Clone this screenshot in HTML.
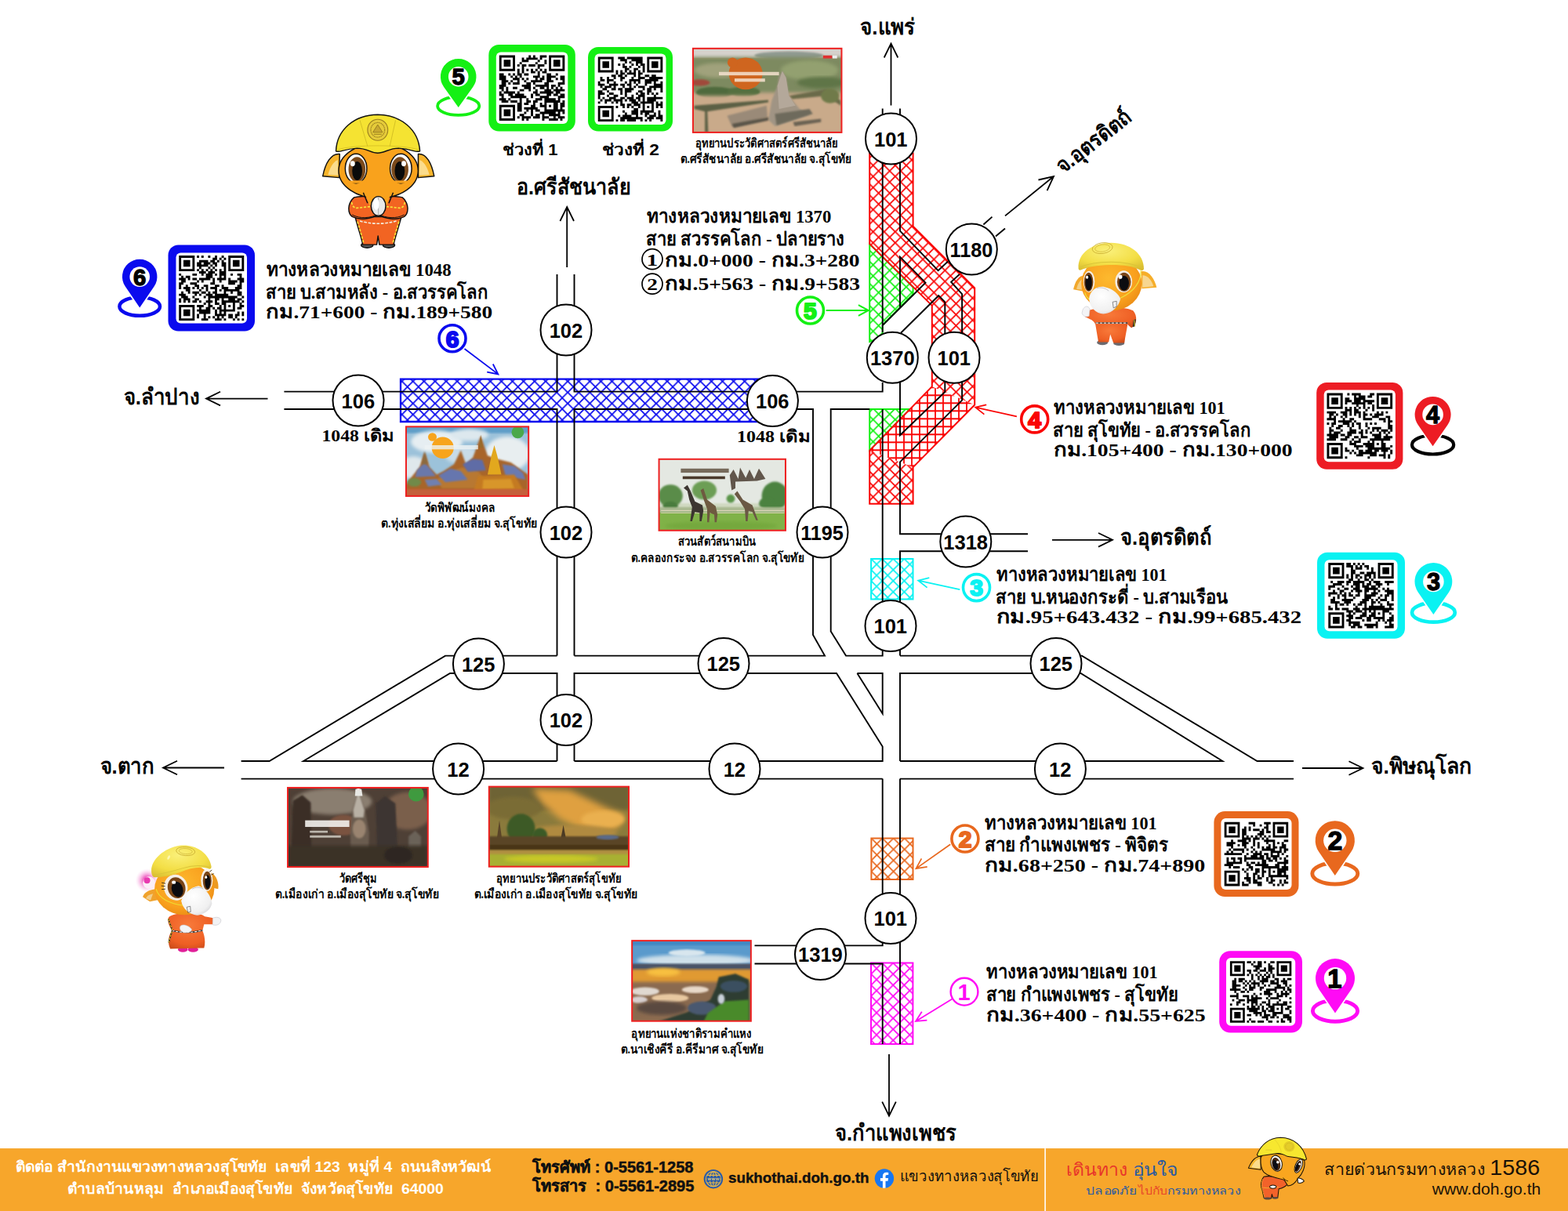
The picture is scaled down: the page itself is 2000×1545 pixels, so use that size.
<!DOCTYPE html>
<html><head><meta charset="utf-8"><title>Sukhothai highway map</title>
<style>html,body{margin:0;padding:0;overflow:hidden;background:#fff;font-family:"Liberation Sans",sans-serif}svg{display:block}</style>
</head><body>
<svg width="2000" height="1545" viewBox="0 0 2000 1545" font-family="Liberation Sans, sans-serif">
<defs><pattern id="hR" width="14.1" height="14.1" patternUnits="userSpaceOnUse" x="1113.65" y="211.05"><path d="M0 0L14.1 14.1M14.1 0L0 14.1M13.1 13.1l2 2M13.1 1l2 -2M-1 1l2 -2M-1 13.1l2 2" stroke="#fa0505" stroke-width="1.8" fill="none"/></pattern><pattern id="hRg" width="10" height="10" patternUnits="userSpaceOnUse" x="1148" y="589.3"><path d="M0 5H10M5 0V10" stroke="#fa0505" stroke-width="1.8" fill="none"/></pattern><pattern id="hG" width="14.1" height="14.1" patternUnits="userSpaceOnUse" x="1113.65" y="211.05"><path d="M0 0L14.1 14.1M14.1 0L0 14.1M13.1 13.1l2 2M13.1 1l2 -2M-1 1l2 -2M-1 13.1l2 2" stroke="#14f014" stroke-width="1.8" fill="none"/></pattern><pattern id="hB" width="14.1" height="14.1" patternUnits="userSpaceOnUse" x="512.65" y="486.5"><path d="M0 0L14.1 14.1M14.1 0L0 14.1M13.1 13.1l2 2M13.1 1l2 -2M-1 1l2 -2M-1 13.1l2 2" stroke="#0a0aee" stroke-width="1.8" fill="none"/></pattern><pattern id="hC" width="14.1" height="14.1" patternUnits="userSpaceOnUse" x="1111.1" y="712.9"><path d="M0 0L14.1 14.1M14.1 0L0 14.1M13.1 13.1l2 2M13.1 1l2 -2M-1 1l2 -2M-1 13.1l2 2" stroke="#0af2f2" stroke-width="1.8" fill="none"/></pattern><pattern id="hO" width="14.1" height="14.1" patternUnits="userSpaceOnUse" x="1111.4" y="1069.5"><path d="M0 0L14.1 14.1M14.1 0L0 14.1M13.1 13.1l2 2M13.1 1l2 -2M-1 1l2 -2M-1 13.1l2 2" stroke="#e8681e" stroke-width="1.8" fill="none"/></pattern><pattern id="hM" width="14.1" height="14.1" patternUnits="userSpaceOnUse" x="1111" y="1228.6"><path d="M0 0L14.1 14.1M14.1 0L0 14.1M13.1 13.1l2 2M13.1 1l2 -2M-1 1l2 -2M-1 13.1l2 2" stroke="#ff0af5" stroke-width="1.8" fill="none"/></pattern><filter id="b1" x="-10%" y="-10%" width="120%" height="120%"><feGaussianBlur stdDeviation="8"/></filter><filter id="b2" x="-10%" y="-10%" width="120%" height="120%"><feGaussianBlur stdDeviation="18"/></filter><filter id="b3" x="-10%" y="-10%" width="120%" height="120%"><feGaussianBlur stdDeviation="35"/></filter><radialGradient id="gHead" cx="0.45" cy="0.4" r="0.65"><stop offset="0" stop-color="#fdb92e"/><stop offset="0.7" stop-color="#f9a01e"/><stop offset="1" stop-color="#e98a14"/></radialGradient><radialGradient id="gHelm" cx="0.45" cy="0.3" r="0.8"><stop offset="0" stop-color="#faf07a"/><stop offset="0.6" stop-color="#f3de45"/><stop offset="1" stop-color="#d8bc30"/></radialGradient><radialGradient id="gBody" cx="0.45" cy="0.35" r="0.75"><stop offset="0" stop-color="#f87a3a"/><stop offset="0.7" stop-color="#ee5f24"/><stop offset="1" stop-color="#c84a18"/></radialGradient><radialGradient id="gMask" cx="0.4" cy="0.35" r="0.8"><stop offset="0" stop-color="#ffffff"/><stop offset="0.7" stop-color="#f0f0f0"/><stop offset="1" stop-color="#c8c8cc"/></radialGradient><radialGradient id="gPink"><stop offset="0" stop-color="#e83ab0"/><stop offset="0.35" stop-color="#f070c8"/><stop offset="1" stop-color="#fbd0ee" stop-opacity="0"/></radialGradient></defs>
<rect width="2000" height="1545" fill="#fff"/>
<polygon points="1109.2,311.2 1164.6,366.5 1164.6,375.2 1125.7,415.0 1125.7,430.0 1109.2,436.0" fill="url(#hG)" stroke="#14f014" stroke-width="2" stroke-linejoin="miter"/><polygon points="1109.2,522.0 1160.7,522.0 1109.2,574.8" fill="url(#hG)" stroke="#14f014" stroke-width="2" stroke-linejoin="miter"/><polygon points="1109.2,195.6 1164.6,195.6 1164.6,288.8 1243.2,367.5 1243.2,516.5 1164.6,596.1 1164.6,642.7 1109.2,642.7 1109.2,574.8 1188.8,493.2 1188.8,389.8 1109.2,311.2" fill="url(#hR)"/><polygon points="1188.8,493.2 1243.2,516.5 1164.6,596.1 1109.2,574.8" fill="#fff"/><polygon points="1188.8,493.2 1243.2,516.5 1164.6,596.1 1109.2,574.8" fill="url(#hRg)"/><polygon points="1109.2,195.6 1164.6,195.6 1164.6,288.8 1243.2,367.5 1243.2,516.5 1164.6,596.1 1164.6,642.7 1109.2,642.7 1109.2,574.8 1188.8,493.2 1188.8,389.8 1109.2,311.2" fill="none" stroke="#fa0505" stroke-width="2" stroke-linejoin="miter"/><polygon points="511.0,483.6 975.0,483.6 975.0,538.0 511.0,538.0" fill="url(#hB)" stroke="#0a0aee" stroke-width="2.3" stroke-linejoin="miter"/><polygon points="1111.1,712.9 1164.5,712.9 1164.5,764.5 1111.1,764.5" fill="url(#hC)" stroke="#0af2f2" stroke-width="2" stroke-linejoin="miter"/><polygon points="1111.4,1069.5 1164.5,1069.5 1164.5,1122.0 1111.4,1122.0" fill="url(#hO)" stroke="#e8681e" stroke-width="2" stroke-linejoin="miter"/><polygon points="1111.0,1228.6 1164.4,1228.6 1164.4,1332.1 1111.0,1332.1" fill="url(#hM)" stroke="#ff0af5" stroke-width="2" stroke-linejoin="miter"/><path d="M307.6 971.0L343.6 971.0L568.0 836.6L710.5 836.6M710.5 971.0L387.0 971.0L574.0 859.0L710.5 859.0L710.5 971.0M307.6 993.6L1125.7 993.6M1148.0 993.6L1650.0 993.6M732.5 971.0L1125.7 971.0L1125.7 952.5L1067.0 859.0L732.5 859.0L732.5 971.0M1148.0 971.0L1559.4 971.0L1378.5 859.0L1148.0 859.0L1148.0 971.0M1650.0 971.0L1603.5 971.0L1380.0 836.6L1148.0 836.6M710.5 350.0L710.5 499.6L362.4 499.6M362.4 522.0L710.5 522.0L710.5 836.6M732.5 350.0L732.5 499.6L1125.7 499.6L1125.7 488.0M732.5 836.6L732.5 522.0L1037.0 522.0L1037.0 810.0L1052.0 836.6L732.5 836.6M1109.2 522.0L1059.7 522.0L1059.7 805.5L1079.0 836.6L1125.7 836.6L1125.7 522.0M1093.4 859.0L1125.7 859.0L1125.7 910.5L1093.4 859.0M1125.7 993.6L1125.7 1206.4L962.5 1206.4M962.5 1229.5L1125.7 1229.5L1125.7 1332.0M1148.0 993.6L1148.0 1332.0M1148.0 836.6L1148.0 703.2L1311.0 703.2M1311.0 681.2L1148.0 681.2L1148.0 589.3L1227.1 510.7L1227.1 480.0M1148.0 488.0L1148.0 555.3L1205.3 500.0L1205.3 480.0M1125.7 138.6L1125.7 424.0M1148.0 138.6L1148.0 294.7L1196.6 345.1L1209.2 333.5M1223.8 350.0L1213.1 359.7L1227.1 375.2L1227.1 430.0M1148.0 391.7L1148.0 327.7L1180.5 360.7L1125.7 415.0M1149.0 424.8L1197.2 377.2L1205.3 385.3L1205.3 430.0M1254.4 286.5L1265.5 276.6M1270.0 301.5L1282.0 291.6" fill="none" stroke="#000" stroke-width="1.9" stroke-linecap="butt" stroke-linejoin="miter"/><path d="M1136.5 134.4L1136.5 55.5M1145.3 73.5L1136.5 55.5L1127.7 73.5" fill="none" stroke="#000" stroke-width="1.8" stroke-linejoin="miter" stroke-miterlimit="10"/><path d="M723.2 341.0L723.2 264.0M732.0 282.0L723.2 264.0L714.4 282.0" fill="none" stroke="#000" stroke-width="1.8" stroke-linejoin="miter" stroke-miterlimit="10"/><path d="M341.5 508.6L263.0 508.6M281.0 499.8L263.0 508.6L281.0 517.4" fill="none" stroke="#000" stroke-width="1.8" stroke-linejoin="miter" stroke-miterlimit="10"/><path d="M286.0 979.5L208.0 979.5M226.0 970.7L208.0 979.5L226.0 988.3" fill="none" stroke="#000" stroke-width="1.8" stroke-linejoin="miter" stroke-miterlimit="10"/><path d="M1661.0 980.0L1738.5 980.0M1720.5 988.8L1738.5 980.0L1720.5 971.2" fill="none" stroke="#000" stroke-width="1.8" stroke-linejoin="miter" stroke-miterlimit="10"/><path d="M1342.0 688.8L1419.0 688.8M1401.0 697.6L1419.0 688.8L1401.0 680.0" fill="none" stroke="#000" stroke-width="1.8" stroke-linejoin="miter" stroke-miterlimit="10"/><path d="M1134.0 1345.0L1134.0 1423.6M1125.2 1405.6L1134.0 1423.6L1142.8 1405.6" fill="none" stroke="#000" stroke-width="1.8" stroke-linejoin="miter" stroke-miterlimit="10"/><path d="M1282.0 275.4L1344.0 225.0M1335.6 243.1L1344.0 225.0L1324.5 229.5" fill="none" stroke="#000" stroke-width="1.8" stroke-linejoin="miter" stroke-miterlimit="10"/><path d="M1053.7 396.0L1107.7 396.0M1094.9 402.8L1107.7 396.0L1094.9 389.2" fill="none" stroke="#14f014" stroke-width="2" stroke-linejoin="miter" stroke-miterlimit="10"/><path d="M592.5 445.0L635.4 477.4M621.2 474.6L635.4 477.4L628.8 464.5" fill="none" stroke="#0a0aee" stroke-width="1.8" stroke-linejoin="miter" stroke-miterlimit="10"/><path d="M1296.9 531.4L1244.1 519.7M1258.2 516.3L1244.1 519.7L1255.4 528.7" fill="none" stroke="#fa0505" stroke-width="1.7" stroke-linejoin="miter" stroke-miterlimit="10"/><path d="M1224.3 752.2L1171.2 740.6M1185.3 737.2L1171.2 740.6L1182.6 749.6" fill="none" stroke="#0af2f2" stroke-width="1.8" stroke-linejoin="miter" stroke-miterlimit="10"/><path d="M1212.2 1077.2L1168.4 1108.1M1175.4 1095.4L1168.4 1108.1L1182.7 1105.8" fill="none" stroke="#e8681e" stroke-width="1.7" stroke-linejoin="miter" stroke-miterlimit="10"/><path d="M1214.5 1274.5L1168.0 1303.0M1175.8 1290.8L1168.0 1303.0L1182.4 1301.6" fill="none" stroke="#ff0af5" stroke-width="1.8" stroke-linejoin="miter" stroke-miterlimit="10"/><circle cx="1136.5" cy="177.0" r="32.5" fill="#fff" stroke="#000" stroke-width="2.0"/><text x="1114.98" y="186.60" font-size="25.5" font-weight="bold" fill="#000">101</text><circle cx="1239.3" cy="318.0" r="32.5" fill="#fff" stroke="#000" stroke-width="2.0"/><text x="1211.60" y="327.60" font-size="25.5" font-weight="bold" fill="#000" textLength="54.8" lengthAdjust="spacingAndGlyphs">1180</text><circle cx="1138.3" cy="456.3" r="32.5" fill="#fff" stroke="#000" stroke-width="2.0"/><text x="1109.92" y="465.90" font-size="25.5" font-weight="bold" fill="#000">1370</text><circle cx="1217.0" cy="456.3" r="32.5" fill="#fff" stroke="#000" stroke-width="2.0"/><text x="1195.48" y="465.90" font-size="25.5" font-weight="bold" fill="#000">101</text><circle cx="722.0" cy="421.0" r="32.5" fill="#fff" stroke="#000" stroke-width="2.0"/><text x="700.63" y="430.60" font-size="25.5" font-weight="bold" fill="#000">102</text><circle cx="457.0" cy="511.0" r="32.5" fill="#fff" stroke="#000" stroke-width="2.0"/><text x="435.58" y="520.60" font-size="25.5" font-weight="bold" fill="#000">106</text><circle cx="985.4" cy="511.6" r="32.5" fill="#fff" stroke="#000" stroke-width="2.0"/><text x="963.98" y="521.20" font-size="25.5" font-weight="bold" fill="#000">106</text><circle cx="722.0" cy="679.0" r="32.5" fill="#fff" stroke="#000" stroke-width="2.0"/><text x="700.63" y="688.60" font-size="25.5" font-weight="bold" fill="#000">102</text><circle cx="1049.0" cy="679.0" r="32.5" fill="#fff" stroke="#000" stroke-width="2.0"/><text x="1021.14" y="688.60" font-size="25.5" font-weight="bold" fill="#000" textLength="54.8" lengthAdjust="spacingAndGlyphs">1195</text><circle cx="1231.8" cy="691.0" r="32.5" fill="#fff" stroke="#000" stroke-width="2.0"/><text x="1203.29" y="700.60" font-size="25.5" font-weight="bold" fill="#000">1318</text><circle cx="1136.0" cy="798.6" r="32.5" fill="#fff" stroke="#000" stroke-width="2.0"/><text x="1114.48" y="808.20" font-size="25.5" font-weight="bold" fill="#000">101</text><circle cx="610.4" cy="847.0" r="32.5" fill="#fff" stroke="#000" stroke-width="2.0"/><text x="588.88" y="856.60" font-size="25.5" font-weight="bold" fill="#000">125</text><circle cx="923.0" cy="846.6" r="32.5" fill="#fff" stroke="#000" stroke-width="2.0"/><text x="901.48" y="856.20" font-size="25.5" font-weight="bold" fill="#000">125</text><circle cx="1347.0" cy="846.6" r="32.5" fill="#fff" stroke="#000" stroke-width="2.0"/><text x="1325.48" y="856.20" font-size="25.5" font-weight="bold" fill="#000">125</text><circle cx="722.0" cy="918.6" r="32.5" fill="#fff" stroke="#000" stroke-width="2.0"/><text x="700.63" y="928.20" font-size="25.5" font-weight="bold" fill="#000">102</text><circle cx="584.6" cy="981.0" r="32.5" fill="#fff" stroke="#000" stroke-width="2.0"/><text x="570.26" y="990.60" font-size="25.5" font-weight="bold" fill="#000">12</text><circle cx="937.0" cy="981.0" r="32.5" fill="#fff" stroke="#000" stroke-width="2.0"/><text x="922.66" y="990.60" font-size="25.5" font-weight="bold" fill="#000">12</text><circle cx="1352.4" cy="981.0" r="32.5" fill="#fff" stroke="#000" stroke-width="2.0"/><text x="1338.06" y="990.60" font-size="25.5" font-weight="bold" fill="#000">12</text><circle cx="1136.0" cy="1171.5" r="32.5" fill="#fff" stroke="#000" stroke-width="2.0"/><text x="1114.48" y="1181.10" font-size="25.5" font-weight="bold" fill="#000">101</text><circle cx="1046.5" cy="1217.5" r="32.5" fill="#fff" stroke="#000" stroke-width="2.0"/><text x="1018.07" y="1227.10" font-size="25.5" font-weight="bold" fill="#000">1319</text><text x="1097.39" y="44.00" font-size="28" font-weight="bold" fill="#000" textLength="69.6" lengthAdjust="spacingAndGlyphs">จ.แพร่</text><text x="658.89" y="247.50" font-size="28" font-weight="bold" fill="#000" textLength="145" lengthAdjust="spacingAndGlyphs">อ.ศรีสัชนาลัย</text><text x="157.87" y="515.50" font-size="28" font-weight="bold" fill="#000" textLength="97" lengthAdjust="spacingAndGlyphs">จ.ลำปาง</text><text x="127.86" y="987.00" font-size="28" font-weight="bold" fill="#000" textLength="69" lengthAdjust="spacingAndGlyphs">จ.ตาก</text><text x="1749.37" y="987.00" font-size="28" font-weight="bold" fill="#000" textLength="128" lengthAdjust="spacingAndGlyphs">จ.พิษณุโลก</text><text x="1429.41" y="694.80" font-size="28" font-weight="bold" fill="#000" textLength="116" lengthAdjust="spacingAndGlyphs">จ.อุตรดิตถ์</text><text x="1065.30" y="1454.60" font-size="28" font-weight="bold" fill="#000" textLength="154.4" lengthAdjust="spacingAndGlyphs">จ.กำแพงเพชร</text><g transform="translate(1356.5 222.0) rotate(-38)"><text x="-0.58" y="0" font-size="28" font-weight="bold" fill="#000" textLength="113.2" lengthAdjust="spacingAndGlyphs">จ.อุตรดิตถ์</text></g><text x="339.61" y="352.00" font-family="Liberation Serif, serif" font-size="24" font-weight="bold" fill="#000" textLength="236" lengthAdjust="spacingAndGlyphs">ทางหลวงหมายเลข 1048</text><text x="338.91" y="380.80" font-family="Liberation Serif, serif" font-size="24" font-weight="bold" fill="#000" textLength="284" lengthAdjust="spacingAndGlyphs">สาย บ.สามหลัง - อ.สวรรคโลก</text><text x="339.15" y="405.60" font-family="Liberation Serif, serif" font-size="24" font-weight="bold" fill="#000" textLength="289" lengthAdjust="spacingAndGlyphs">กม.71+600 - กม.189+580</text><text x="825.01" y="284.20" font-family="Liberation Serif, serif" font-size="24" font-weight="bold" fill="#000" textLength="235.3" lengthAdjust="spacingAndGlyphs">ทางหลวงหมายเลข 1370</text><text x="824.27" y="312.60" font-family="Liberation Serif, serif" font-size="24" font-weight="bold" fill="#000" textLength="253" lengthAdjust="spacingAndGlyphs">สาย สวรรคโลก - ปลายราง</text><text x="848.02" y="339.70" font-family="Liberation Serif, serif" font-size="24" font-weight="bold" fill="#000" textLength="248.4" lengthAdjust="spacingAndGlyphs">กม.0+000 - กม.3+280</text><text x="848.01" y="370.20" font-family="Liberation Serif, serif" font-size="24" font-weight="bold" fill="#000" textLength="249" lengthAdjust="spacingAndGlyphs">กม.5+563 - กม.9+583</text><text x="1344.01" y="528.00" font-family="Liberation Serif, serif" font-size="24" font-weight="bold" fill="#000" textLength="218.6" lengthAdjust="spacingAndGlyphs">ทางหลวงหมายเลข 101</text><text x="1343.31" y="557.20" font-family="Liberation Serif, serif" font-size="24" font-weight="bold" fill="#000" textLength="252" lengthAdjust="spacingAndGlyphs">สาย สุโขทัย - อ.สวรรคโลก</text><text x="1343.55" y="582.00" font-family="Liberation Serif, serif" font-size="24" font-weight="bold" fill="#000" textLength="305" lengthAdjust="spacingAndGlyphs">กม.105+400 - กม.130+000</text><text x="1271.02" y="741.20" font-family="Liberation Serif, serif" font-size="24" font-weight="bold" fill="#000" textLength="217.6" lengthAdjust="spacingAndGlyphs">ทางหลวงหมายเลข 101</text><text x="1270.31" y="770.00" font-family="Liberation Serif, serif" font-size="24" font-weight="bold" fill="#000" textLength="295" lengthAdjust="spacingAndGlyphs">สาย บ.หนองกระดี่ - บ.สามเรือน</text><text x="1270.53" y="794.80" font-family="Liberation Serif, serif" font-size="24" font-weight="bold" fill="#000" textLength="389.6" lengthAdjust="spacingAndGlyphs">กม.95+643.432 - กม.99+685.432</text><text x="1256.21" y="1057.50" font-family="Liberation Serif, serif" font-size="24" font-weight="bold" fill="#000" textLength="219.4" lengthAdjust="spacingAndGlyphs">ทางหลวงหมายเลข 101</text><text x="1255.50" y="1086.00" font-family="Liberation Serif, serif" font-size="24" font-weight="bold" fill="#000" textLength="235" lengthAdjust="spacingAndGlyphs">สาย กำแพงเพชร - พิจิตร</text><text x="1255.71" y="1111.50" font-family="Liberation Serif, serif" font-size="24" font-weight="bold" fill="#000" textLength="281.6" lengthAdjust="spacingAndGlyphs">กม.68+250 - กม.74+890</text><text x="1258.41" y="1248.00" font-family="Liberation Serif, serif" font-size="24" font-weight="bold" fill="#000" textLength="218.2" lengthAdjust="spacingAndGlyphs">ทางหลวงหมายเลข 101</text><text x="1257.72" y="1277.20" font-family="Liberation Serif, serif" font-size="24" font-weight="bold" fill="#000" textLength="244.8" lengthAdjust="spacingAndGlyphs">สาย กำแพงเพชร - สุโขทัย</text><text x="1257.92" y="1303.20" font-family="Liberation Serif, serif" font-size="24" font-weight="bold" fill="#000" textLength="279.7" lengthAdjust="spacingAndGlyphs">กม.36+400 - กม.55+625</text><text x="410.49" y="563.00" font-family="Liberation Serif, serif" font-size="21" font-weight="bold" fill="#000" textLength="92.8" lengthAdjust="spacingAndGlyphs">1048 เดิม</text><text x="939.96" y="564.00" font-family="Liberation Serif, serif" font-size="21" font-weight="bold" fill="#000" textLength="93.8" lengthAdjust="spacingAndGlyphs">1048 เดิม</text><text x="640.73" y="198.00" font-size="20" font-weight="bold" fill="#000" textLength="70.8" lengthAdjust="spacingAndGlyphs">ช่วงที่ 1</text><text x="767.52" y="198.00" font-size="20" font-weight="bold" fill="#000" textLength="73.3" lengthAdjust="spacingAndGlyphs">ช่วงที่ 2</text><circle cx="832.0" cy="330.7" r="13.0" fill="#fff" stroke="#000" stroke-width="1.7"/><text x="824.84" y="338.62" font-family="Liberation Serif, serif" font-size="22" font-weight="bold" fill="#000" textLength="14.3" lengthAdjust="spacingAndGlyphs">1</text><circle cx="832.0" cy="362.2" r="13.0" fill="#fff" stroke="#000" stroke-width="1.7"/><text x="825.18" y="370.12" font-family="Liberation Serif, serif" font-size="22" font-weight="bold" fill="#000" textLength="13.6" lengthAdjust="spacingAndGlyphs">2</text><circle cx="1033.5" cy="396.0" r="17.0" fill="#fff" stroke="#14f014" stroke-width="3.6"/><text x="1025.11" y="406.74" font-size="30" font-weight="bold" fill="#14f014" stroke="#14f014" stroke-width="2.2" stroke-linejoin="round">5</text><circle cx="577.0" cy="431.8" r="17.0" fill="#fff" stroke="#0a0aee" stroke-width="3.6"/><text x="568.65" y="442.54" font-size="30" font-weight="bold" fill="#0a0aee" stroke="#0a0aee" stroke-width="2.2" stroke-linejoin="round">6</text><circle cx="1319.7" cy="534.9" r="17.0" fill="#fff" stroke="#fa0505" stroke-width="3.6"/><text x="1311.21" y="545.64" font-size="30" font-weight="bold" fill="#fa0505" stroke="#fa0505" stroke-width="2.2" stroke-linejoin="round">4</text><circle cx="1245.5" cy="749.6" r="17.0" fill="#fff" stroke="#0af2f2" stroke-width="3.6"/><text x="1237.36" y="760.34" font-size="30" font-weight="bold" fill="#0af2f2" stroke="#0af2f2" stroke-width="2.2" stroke-linejoin="round">3</text><circle cx="1230.9" cy="1070.0" r="17.0" fill="#fff" stroke="#e8681e" stroke-width="3.6"/><text x="1222.64" y="1080.74" font-size="30" font-weight="bold" fill="#e8681e" stroke="#e8681e" stroke-width="2.2" stroke-linejoin="round">2</text><circle cx="1230.0" cy="1265.2" r="17.4" fill="#fff" stroke="#ff0af5" stroke-width="2.4"/><text x="1221.43" y="1275.58" font-size="29" font-weight="bold" fill="#ff0af5">1</text><rect x="623.3" y="57.0" width="110.5" height="110.5" rx="13" fill="#14f014"/><rect x="632.8" y="66.5" width="91.5" height="91.5" rx="6" fill="#fff"/><path d="M636.80 70.50h20.16v2.93h-20.16zM674.23 70.50h2.88v2.93h-2.88zM679.99 70.50h2.88v2.93h-2.88zM688.63 70.50h8.64v2.93h-8.64zM700.14 70.50h20.16v2.93h-20.16zM636.80 73.38h2.88v2.93h-2.88zM654.08 73.38h2.88v2.93h-2.88zM665.59 73.38h2.88v2.93h-2.88zM671.35 73.38h14.40v2.93h-14.40zM688.63 73.38h2.88v2.93h-2.88zM700.14 73.38h2.88v2.93h-2.88zM717.42 73.38h2.88v2.93h-2.88zM636.80 76.26h2.88v2.93h-2.88zM642.56 76.26h8.64v2.93h-8.64zM654.08 76.26h2.88v2.93h-2.88zM665.59 76.26h8.64v2.93h-8.64zM685.75 76.26h2.88v2.93h-2.88zM694.39 76.26h2.88v2.93h-2.88zM700.14 76.26h2.88v2.93h-2.88zM705.90 76.26h8.64v2.93h-8.64zM717.42 76.26h2.88v2.93h-2.88zM636.80 79.14h2.88v2.93h-2.88zM642.56 79.14h8.64v2.93h-8.64zM654.08 79.14h2.88v2.93h-2.88zM662.71 79.14h2.88v2.93h-2.88zM682.87 79.14h2.88v2.93h-2.88zM694.39 79.14h2.88v2.93h-2.88zM700.14 79.14h2.88v2.93h-2.88zM705.90 79.14h8.64v2.93h-8.64zM717.42 79.14h2.88v2.93h-2.88zM636.80 82.02h2.88v2.93h-2.88zM642.56 82.02h8.64v2.93h-8.64zM654.08 82.02h2.88v2.93h-2.88zM659.83 82.02h2.88v2.93h-2.88zM665.59 82.02h5.76v2.93h-5.76zM674.23 82.02h8.64v2.93h-8.64zM685.75 82.02h8.64v2.93h-8.64zM700.14 82.02h2.88v2.93h-2.88zM705.90 82.02h8.64v2.93h-8.64zM717.42 82.02h2.88v2.93h-2.88zM636.80 84.90h2.88v2.93h-2.88zM654.08 84.90h2.88v2.93h-2.88zM665.59 84.90h2.88v2.93h-2.88zM685.75 84.90h2.88v2.93h-2.88zM700.14 84.90h2.88v2.93h-2.88zM717.42 84.90h2.88v2.93h-2.88zM636.80 87.78h20.16v2.93h-20.16zM659.83 87.78h2.88v2.93h-2.88zM665.59 87.78h2.88v2.93h-2.88zM671.35 87.78h2.88v2.93h-2.88zM677.11 87.78h2.88v2.93h-2.88zM682.87 87.78h2.88v2.93h-2.88zM688.63 87.78h2.88v2.93h-2.88zM694.39 87.78h2.88v2.93h-2.88zM700.14 87.78h20.16v2.93h-20.16zM659.83 90.66h2.88v2.93h-2.88zM665.59 90.66h2.88v2.93h-2.88zM677.11 90.66h5.76v2.93h-5.76zM685.75 90.66h2.88v2.93h-2.88zM691.51 90.66h5.76v2.93h-5.76zM636.80 93.53h5.76v2.93h-5.76zM648.32 93.53h2.88v2.93h-2.88zM654.08 93.53h2.88v2.93h-2.88zM659.83 93.53h5.76v2.93h-5.76zM668.47 93.53h5.76v2.93h-5.76zM685.75 93.53h2.88v2.93h-2.88zM697.27 93.53h5.76v2.93h-5.76zM708.78 93.53h2.88v2.93h-2.88zM636.80 96.41h8.64v2.93h-8.64zM651.20 96.41h2.88v2.93h-2.88zM656.96 96.41h2.88v2.93h-2.88zM662.71 96.41h2.88v2.93h-2.88zM679.99 96.41h8.64v2.93h-8.64zM691.51 96.41h2.88v2.93h-2.88zM697.27 96.41h11.52v2.93h-11.52zM714.54 96.41h5.76v2.93h-5.76zM636.80 99.29h8.64v2.93h-8.64zM654.08 99.29h8.64v2.93h-8.64zM665.59 99.29h2.88v2.93h-2.88zM671.35 99.29h2.88v2.93h-2.88zM682.87 99.29h2.88v2.93h-2.88zM688.63 99.29h5.76v2.93h-5.76zM697.27 99.29h5.76v2.93h-5.76zM708.78 99.29h2.88v2.93h-2.88zM714.54 99.29h5.76v2.93h-5.76zM639.68 102.17h8.64v2.93h-8.64zM651.20 102.17h2.88v2.93h-2.88zM659.83 102.17h2.88v2.93h-2.88zM668.47 102.17h2.88v2.93h-2.88zM677.11 102.17h14.40v2.93h-14.40zM697.27 102.17h8.64v2.93h-8.64zM717.42 102.17h2.88v2.93h-2.88zM639.68 105.05h5.76v2.93h-5.76zM648.32 105.05h2.88v2.93h-2.88zM654.08 105.05h8.64v2.93h-8.64zM671.35 105.05h5.76v2.93h-5.76zM679.99 105.05h2.88v2.93h-2.88zM694.39 105.05h5.76v2.93h-5.76zM711.66 105.05h8.64v2.93h-8.64zM636.80 107.93h8.64v2.93h-8.64zM665.59 107.93h11.52v2.93h-11.52zM682.87 107.93h17.28v2.93h-17.28zM703.02 107.93h5.76v2.93h-5.76zM711.66 107.93h2.88v2.93h-2.88zM636.80 110.81h5.76v2.93h-5.76zM645.44 110.81h2.88v2.93h-2.88zM654.08 110.81h5.76v2.93h-5.76zM668.47 110.81h8.64v2.93h-8.64zM679.99 110.81h2.88v2.93h-2.88zM688.63 110.81h5.76v2.93h-5.76zM697.27 110.81h2.88v2.93h-2.88zM703.02 110.81h2.88v2.93h-2.88zM708.78 110.81h2.88v2.93h-2.88zM714.54 110.81h2.88v2.93h-2.88zM639.68 113.69h2.88v2.93h-2.88zM645.44 113.69h2.88v2.93h-2.88zM662.71 113.69h5.76v2.93h-5.76zM674.23 113.69h2.88v2.93h-2.88zM682.87 113.69h2.88v2.93h-2.88zM694.39 113.69h8.64v2.93h-8.64zM705.90 113.69h14.40v2.93h-14.40zM636.80 116.57h2.88v2.93h-2.88zM642.56 116.57h14.40v2.93h-14.40zM659.83 116.57h2.88v2.93h-2.88zM679.99 116.57h5.76v2.93h-5.76zM688.63 116.57h17.28v2.93h-17.28zM708.78 116.57h5.76v2.93h-5.76zM636.80 119.45h5.76v2.93h-5.76zM648.32 119.45h5.76v2.93h-5.76zM656.96 119.45h11.52v2.93h-11.52zM677.11 119.45h2.88v2.93h-2.88zM682.87 119.45h5.76v2.93h-5.76zM697.27 119.45h5.76v2.93h-5.76zM705.90 119.45h5.76v2.93h-5.76zM714.54 119.45h5.76v2.93h-5.76zM639.68 122.33h2.88v2.93h-2.88zM651.20 122.33h20.16v2.93h-20.16zM677.11 122.33h2.88v2.93h-2.88zM688.63 122.33h11.52v2.93h-11.52zM711.66 122.33h8.64v2.93h-8.64zM636.80 125.21h8.64v2.93h-8.64zM648.32 125.21h2.88v2.93h-2.88zM662.71 125.21h2.88v2.93h-2.88zM671.35 125.21h2.88v2.93h-2.88zM682.87 125.21h8.64v2.93h-8.64zM694.39 125.21h14.40v2.93h-14.40zM711.66 125.21h2.88v2.93h-2.88zM639.68 128.09h8.64v2.93h-8.64zM651.20 128.09h8.64v2.93h-8.64zM662.71 128.09h2.88v2.93h-2.88zM671.35 128.09h5.76v2.93h-5.76zM679.99 128.09h5.76v2.93h-5.76zM694.39 128.09h20.16v2.93h-20.16zM717.42 128.09h2.88v2.93h-2.88zM659.83 130.97h5.76v2.93h-5.76zM668.47 130.97h5.76v2.93h-5.76zM679.99 130.97h2.88v2.93h-2.88zM688.63 130.97h2.88v2.93h-2.88zM694.39 130.97h2.88v2.93h-2.88zM705.90 130.97h5.76v2.93h-5.76zM714.54 130.97h5.76v2.93h-5.76zM636.80 133.84h20.16v2.93h-20.16zM659.83 133.84h5.76v2.93h-5.76zM677.11 133.84h5.76v2.93h-5.76zM688.63 133.84h8.64v2.93h-8.64zM700.14 133.84h2.88v2.93h-2.88zM705.90 133.84h5.76v2.93h-5.76zM714.54 133.84h5.76v2.93h-5.76zM636.80 136.72h2.88v2.93h-2.88zM654.08 136.72h2.88v2.93h-2.88zM659.83 136.72h5.76v2.93h-5.76zM668.47 136.72h17.28v2.93h-17.28zM694.39 136.72h2.88v2.93h-2.88zM705.90 136.72h5.76v2.93h-5.76zM714.54 136.72h2.88v2.93h-2.88zM636.80 139.60h2.88v2.93h-2.88zM642.56 139.60h8.64v2.93h-8.64zM654.08 139.60h2.88v2.93h-2.88zM659.83 139.60h5.76v2.93h-5.76zM671.35 139.60h2.88v2.93h-2.88zM677.11 139.60h2.88v2.93h-2.88zM682.87 139.60h5.76v2.93h-5.76zM694.39 139.60h25.91v2.93h-25.91zM636.80 142.48h2.88v2.93h-2.88zM642.56 142.48h8.64v2.93h-8.64zM654.08 142.48h2.88v2.93h-2.88zM668.47 142.48h2.88v2.93h-2.88zM677.11 142.48h2.88v2.93h-2.88zM688.63 142.48h20.16v2.93h-20.16zM711.66 142.48h2.88v2.93h-2.88zM717.42 142.48h2.88v2.93h-2.88zM636.80 145.36h2.88v2.93h-2.88zM642.56 145.36h8.64v2.93h-8.64zM654.08 145.36h2.88v2.93h-2.88zM662.71 145.36h5.76v2.93h-5.76zM677.11 145.36h2.88v2.93h-2.88zM682.87 145.36h5.76v2.93h-5.76zM691.51 145.36h2.88v2.93h-2.88zM700.14 145.36h14.40v2.93h-14.40zM636.80 148.24h2.88v2.93h-2.88zM654.08 148.24h2.88v2.93h-2.88zM659.83 148.24h2.88v2.93h-2.88zM665.59 148.24h11.52v2.93h-11.52zM679.99 148.24h8.64v2.93h-8.64zM691.51 148.24h8.64v2.93h-8.64zM705.90 148.24h2.88v2.93h-2.88zM711.66 148.24h8.64v2.93h-8.64zM636.80 151.12h20.16v2.93h-20.16zM665.59 151.12h2.88v2.93h-2.88zM671.35 151.12h2.88v2.93h-2.88zM691.51 151.12h2.88v2.93h-2.88zM700.14 151.12h11.52v2.93h-11.52zM714.54 151.12h2.88v2.93h-2.88z" fill="#000"/><rect x="750.0" y="60.0" width="108.0" height="107.5" rx="13" fill="#14f014"/><rect x="758.5" y="68.5" width="91.0" height="90.5" rx="6" fill="#fff"/><path d="M762.75 72.50h19.91v2.89h-19.91zM788.35 72.50h8.53v2.89h-8.53zM799.73 72.50h19.91v2.89h-19.91zM825.34 72.50h19.91v2.89h-19.91zM762.75 75.34h2.84v2.89h-2.84zM779.82 75.34h2.84v2.89h-2.84zM791.20 75.34h8.53v2.89h-8.53zM805.42 75.34h14.22v2.89h-14.22zM825.34 75.34h2.84v2.89h-2.84zM842.41 75.34h2.84v2.89h-2.84zM762.75 78.19h2.84v2.89h-2.84zM768.44 78.19h8.53v2.89h-8.53zM779.82 78.19h2.84v2.89h-2.84zM796.89 78.19h2.84v2.89h-2.84zM802.58 78.19h2.84v2.89h-2.84zM811.11 78.19h8.53v2.89h-8.53zM825.34 78.19h2.84v2.89h-2.84zM831.03 78.19h8.53v2.89h-8.53zM842.41 78.19h2.84v2.89h-2.84zM762.75 81.03h2.84v2.89h-2.84zM768.44 81.03h8.53v2.89h-8.53zM779.82 81.03h2.84v2.89h-2.84zM788.35 81.03h2.84v2.89h-2.84zM794.04 81.03h2.84v2.89h-2.84zM805.42 81.03h2.84v2.89h-2.84zM811.11 81.03h2.84v2.89h-2.84zM816.80 81.03h5.69v2.89h-5.69zM825.34 81.03h2.84v2.89h-2.84zM831.03 81.03h8.53v2.89h-8.53zM842.41 81.03h2.84v2.89h-2.84zM762.75 83.88h2.84v2.89h-2.84zM768.44 83.88h8.53v2.89h-8.53zM779.82 83.88h2.84v2.89h-2.84zM794.04 83.88h5.69v2.89h-5.69zM802.58 83.88h2.84v2.89h-2.84zM813.96 83.88h2.84v2.89h-2.84zM819.65 83.88h2.84v2.89h-2.84zM825.34 83.88h2.84v2.89h-2.84zM831.03 83.88h8.53v2.89h-8.53zM842.41 83.88h2.84v2.89h-2.84zM762.75 86.72h2.84v2.89h-2.84zM779.82 86.72h2.84v2.89h-2.84zM796.89 86.72h5.69v2.89h-5.69zM808.27 86.72h5.69v2.89h-5.69zM819.65 86.72h2.84v2.89h-2.84zM825.34 86.72h2.84v2.89h-2.84zM842.41 86.72h2.84v2.89h-2.84zM762.75 89.57h19.91v2.89h-19.91zM785.51 89.57h2.84v2.89h-2.84zM791.20 89.57h2.84v2.89h-2.84zM796.89 89.57h2.84v2.89h-2.84zM802.58 89.57h2.84v2.89h-2.84zM808.27 89.57h2.84v2.89h-2.84zM813.96 89.57h2.84v2.89h-2.84zM819.65 89.57h2.84v2.89h-2.84zM825.34 89.57h19.91v2.89h-19.91zM785.51 92.41h2.84v2.89h-2.84zM791.20 92.41h5.69v2.89h-5.69zM799.73 92.41h11.38v2.89h-11.38zM813.96 92.41h5.69v2.89h-5.69zM779.82 95.26h5.69v2.89h-5.69zM788.35 95.26h5.69v2.89h-5.69zM796.89 95.26h2.84v2.89h-2.84zM808.27 95.26h2.84v2.89h-2.84zM813.96 95.26h2.84v2.89h-2.84zM822.49 95.26h5.69v2.89h-5.69zM831.03 95.26h5.69v2.89h-5.69zM765.59 98.10h2.84v2.89h-2.84zM774.13 98.10h2.84v2.89h-2.84zM782.66 98.10h2.84v2.89h-2.84zM791.20 98.10h5.69v2.89h-5.69zM805.42 98.10h2.84v2.89h-2.84zM813.96 98.10h8.53v2.89h-8.53zM828.18 98.10h17.07v2.89h-17.07zM765.59 100.95h5.69v2.89h-5.69zM774.13 100.95h8.53v2.89h-8.53zM791.20 100.95h2.84v2.89h-2.84zM802.58 100.95h14.22v2.89h-14.22zM822.49 100.95h17.07v2.89h-17.07zM762.75 103.79h2.84v2.89h-2.84zM774.13 103.79h2.84v2.89h-2.84zM782.66 103.79h2.84v2.89h-2.84zM796.89 103.79h2.84v2.89h-2.84zM802.58 103.79h2.84v2.89h-2.84zM808.27 103.79h2.84v2.89h-2.84zM813.96 103.79h2.84v2.89h-2.84zM822.49 103.79h8.53v2.89h-8.53zM833.87 103.79h2.84v2.89h-2.84zM842.41 103.79h2.84v2.89h-2.84zM762.75 106.64h8.53v2.89h-8.53zM776.97 106.64h11.38v2.89h-11.38zM791.20 106.64h5.69v2.89h-5.69zM799.73 106.64h5.69v2.89h-5.69zM811.11 106.64h2.84v2.89h-2.84zM822.49 106.64h2.84v2.89h-2.84zM833.87 106.64h11.38v2.89h-11.38zM765.59 109.48h2.84v2.89h-2.84zM771.28 109.48h8.53v2.89h-8.53zM782.66 109.48h2.84v2.89h-2.84zM794.04 109.48h2.84v2.89h-2.84zM802.58 109.48h2.84v2.89h-2.84zM808.27 109.48h2.84v2.89h-2.84zM813.96 109.48h8.53v2.89h-8.53zM828.18 109.48h17.07v2.89h-17.07zM768.44 112.33h5.69v2.89h-5.69zM779.82 112.33h5.69v2.89h-5.69zM788.35 112.33h5.69v2.89h-5.69zM796.89 112.33h11.38v2.89h-11.38zM819.65 112.33h2.84v2.89h-2.84zM825.34 112.33h5.69v2.89h-5.69zM833.87 112.33h2.84v2.89h-2.84zM842.41 112.33h2.84v2.89h-2.84zM762.75 115.17h5.69v2.89h-5.69zM774.13 115.17h2.84v2.89h-2.84zM791.20 115.17h2.84v2.89h-2.84zM796.89 115.17h8.53v2.89h-8.53zM813.96 115.17h5.69v2.89h-5.69zM825.34 115.17h5.69v2.89h-5.69zM842.41 115.17h2.84v2.89h-2.84zM762.75 118.02h8.53v2.89h-8.53zM776.97 118.02h5.69v2.89h-5.69zM791.20 118.02h2.84v2.89h-2.84zM796.89 118.02h2.84v2.89h-2.84zM811.11 118.02h2.84v2.89h-2.84zM816.80 118.02h5.69v2.89h-5.69zM825.34 118.02h2.84v2.89h-2.84zM831.03 118.02h2.84v2.89h-2.84zM836.72 118.02h2.84v2.89h-2.84zM762.75 120.86h2.84v2.89h-2.84zM774.13 120.86h2.84v2.89h-2.84zM782.66 120.86h5.69v2.89h-5.69zM796.89 120.86h2.84v2.89h-2.84zM805.42 120.86h2.84v2.89h-2.84zM813.96 120.86h8.53v2.89h-8.53zM833.87 120.86h2.84v2.89h-2.84zM762.75 123.71h2.84v2.89h-2.84zM768.44 123.71h2.84v2.89h-2.84zM776.97 123.71h8.53v2.89h-8.53zM791.20 123.71h5.69v2.89h-5.69zM799.73 123.71h8.53v2.89h-8.53zM811.11 123.71h5.69v2.89h-5.69zM819.65 123.71h2.84v2.89h-2.84zM825.34 123.71h19.91v2.89h-19.91zM765.59 126.55h2.84v2.89h-2.84zM771.28 126.55h8.53v2.89h-8.53zM782.66 126.55h11.38v2.89h-11.38zM796.89 126.55h2.84v2.89h-2.84zM802.58 126.55h8.53v2.89h-8.53zM813.96 126.55h2.84v2.89h-2.84zM819.65 126.55h2.84v2.89h-2.84zM825.34 126.55h11.38v2.89h-11.38zM762.75 129.40h2.84v2.89h-2.84zM771.28 129.40h2.84v2.89h-2.84zM779.82 129.40h2.84v2.89h-2.84zM785.51 129.40h2.84v2.89h-2.84zM791.20 129.40h2.84v2.89h-2.84zM805.42 129.40h8.53v2.89h-8.53zM816.80 129.40h17.07v2.89h-17.07zM836.72 129.40h2.84v2.89h-2.84zM842.41 129.40h2.84v2.89h-2.84zM791.20 132.24h5.69v2.89h-5.69zM799.73 132.24h5.69v2.89h-5.69zM808.27 132.24h8.53v2.89h-8.53zM819.65 132.24h2.84v2.89h-2.84zM831.03 132.24h2.84v2.89h-2.84zM836.72 132.24h8.53v2.89h-8.53zM762.75 135.09h19.91v2.89h-19.91zM785.51 135.09h2.84v2.89h-2.84zM794.04 135.09h2.84v2.89h-2.84zM799.73 135.09h2.84v2.89h-2.84zM805.42 135.09h2.84v2.89h-2.84zM813.96 135.09h2.84v2.89h-2.84zM819.65 135.09h2.84v2.89h-2.84zM825.34 135.09h2.84v2.89h-2.84zM831.03 135.09h2.84v2.89h-2.84zM836.72 135.09h2.84v2.89h-2.84zM842.41 135.09h2.84v2.89h-2.84zM762.75 137.93h2.84v2.89h-2.84zM779.82 137.93h2.84v2.89h-2.84zM808.27 137.93h5.69v2.89h-5.69zM819.65 137.93h2.84v2.89h-2.84zM831.03 137.93h2.84v2.89h-2.84zM762.75 140.78h2.84v2.89h-2.84zM768.44 140.78h8.53v2.89h-8.53zM779.82 140.78h2.84v2.89h-2.84zM794.04 140.78h2.84v2.89h-2.84zM805.42 140.78h8.53v2.89h-8.53zM816.80 140.78h17.07v2.89h-17.07zM839.56 140.78h2.84v2.89h-2.84zM762.75 143.62h2.84v2.89h-2.84zM768.44 143.62h8.53v2.89h-8.53zM779.82 143.62h2.84v2.89h-2.84zM796.89 143.62h2.84v2.89h-2.84zM805.42 143.62h8.53v2.89h-8.53zM816.80 143.62h2.84v2.89h-2.84zM822.49 143.62h5.69v2.89h-5.69zM833.87 143.62h2.84v2.89h-2.84zM839.56 143.62h2.84v2.89h-2.84zM762.75 146.47h2.84v2.89h-2.84zM768.44 146.47h8.53v2.89h-8.53zM779.82 146.47h2.84v2.89h-2.84zM788.35 146.47h2.84v2.89h-2.84zM794.04 146.47h11.38v2.89h-11.38zM811.11 146.47h2.84v2.89h-2.84zM822.49 146.47h2.84v2.89h-2.84zM828.18 146.47h8.53v2.89h-8.53zM839.56 146.47h5.69v2.89h-5.69zM762.75 149.31h2.84v2.89h-2.84zM779.82 149.31h2.84v2.89h-2.84zM791.20 149.31h28.45v2.89h-28.45zM825.34 149.31h8.53v2.89h-8.53zM836.72 149.31h8.53v2.89h-8.53zM762.75 152.16h19.91v2.89h-19.91zM785.51 152.16h2.84v2.89h-2.84zM791.20 152.16h5.69v2.89h-5.69zM799.73 152.16h11.38v2.89h-11.38zM816.80 152.16h2.84v2.89h-2.84zM822.49 152.16h2.84v2.89h-2.84zM828.18 152.16h2.84v2.89h-2.84zM842.41 152.16h2.84v2.89h-2.84z" fill="#000"/><rect x="214.5" y="312.5" width="110.5" height="110.0" rx="13" fill="#0a0aee"/><rect x="224.5" y="322.5" width="90.5" height="90.0" rx="6" fill="#fff"/><path d="M228.25 326.00h20.03v2.91h-20.03zM251.15 326.00h2.86v2.91h-2.86zM256.87 326.00h2.86v2.91h-2.86zM265.46 326.00h2.86v2.91h-2.86zM274.04 326.00h2.86v2.91h-2.86zM282.63 326.00h2.86v2.91h-2.86zM291.22 326.00h20.03v2.91h-20.03zM228.25 328.86h2.86v2.91h-2.86zM245.42 328.86h2.86v2.91h-2.86zM271.18 328.86h5.72v2.91h-5.72zM279.77 328.86h2.86v2.91h-2.86zM285.49 328.86h2.86v2.91h-2.86zM291.22 328.86h2.86v2.91h-2.86zM308.39 328.86h2.86v2.91h-2.86zM228.25 331.72h2.86v2.91h-2.86zM233.97 331.72h8.59v2.91h-8.59zM245.42 331.72h2.86v2.91h-2.86zM254.01 331.72h11.45v2.91h-11.45zM268.32 331.72h5.72v2.91h-5.72zM276.91 331.72h2.86v2.91h-2.86zM282.63 331.72h2.86v2.91h-2.86zM291.22 331.72h2.86v2.91h-2.86zM296.94 331.72h8.59v2.91h-8.59zM308.39 331.72h2.86v2.91h-2.86zM228.25 334.59h2.86v2.91h-2.86zM233.97 334.59h8.59v2.91h-8.59zM245.42 334.59h2.86v2.91h-2.86zM251.15 334.59h5.72v2.91h-5.72zM259.73 334.59h8.59v2.91h-8.59zM271.18 334.59h5.72v2.91h-5.72zM282.63 334.59h5.72v2.91h-5.72zM291.22 334.59h2.86v2.91h-2.86zM296.94 334.59h8.59v2.91h-8.59zM308.39 334.59h2.86v2.91h-2.86zM228.25 337.45h2.86v2.91h-2.86zM233.97 337.45h8.59v2.91h-8.59zM245.42 337.45h2.86v2.91h-2.86zM251.15 337.45h14.31v2.91h-14.31zM268.32 337.45h2.86v2.91h-2.86zM274.04 337.45h2.86v2.91h-2.86zM282.63 337.45h5.72v2.91h-5.72zM291.22 337.45h2.86v2.91h-2.86zM296.94 337.45h8.59v2.91h-8.59zM308.39 337.45h2.86v2.91h-2.86zM228.25 340.31h2.86v2.91h-2.86zM245.42 340.31h2.86v2.91h-2.86zM254.01 340.31h2.86v2.91h-2.86zM265.46 340.31h2.86v2.91h-2.86zM271.18 340.31h2.86v2.91h-2.86zM285.49 340.31h2.86v2.91h-2.86zM291.22 340.31h2.86v2.91h-2.86zM308.39 340.31h2.86v2.91h-2.86zM228.25 343.17h20.03v2.91h-20.03zM251.15 343.17h2.86v2.91h-2.86zM256.87 343.17h2.86v2.91h-2.86zM262.59 343.17h2.86v2.91h-2.86zM268.32 343.17h2.86v2.91h-2.86zM274.04 343.17h2.86v2.91h-2.86zM279.77 343.17h2.86v2.91h-2.86zM285.49 343.17h2.86v2.91h-2.86zM291.22 343.17h20.03v2.91h-20.03zM254.01 346.03h8.59v2.91h-8.59zM265.46 346.03h8.59v2.91h-8.59zM279.77 346.03h8.59v2.91h-8.59zM228.25 348.90h2.86v2.91h-2.86zM245.42 348.90h5.72v2.91h-5.72zM256.87 348.90h2.86v2.91h-2.86zM262.59 348.90h8.59v2.91h-8.59zM274.04 348.90h2.86v2.91h-2.86zM279.77 348.90h8.59v2.91h-8.59zM294.08 348.90h2.86v2.91h-2.86zM302.66 348.90h5.72v2.91h-5.72zM231.11 351.76h2.86v2.91h-2.86zM236.84 351.76h5.72v2.91h-5.72zM262.59 351.76h8.59v2.91h-8.59zM279.77 351.76h2.86v2.91h-2.86zM285.49 351.76h2.86v2.91h-2.86zM305.53 351.76h2.86v2.91h-2.86zM228.25 354.62h8.59v2.91h-8.59zM239.70 354.62h2.86v2.91h-2.86zM245.42 354.62h5.72v2.91h-5.72zM254.01 354.62h14.31v2.91h-14.31zM271.18 354.62h2.86v2.91h-2.86zM276.91 354.62h11.45v2.91h-11.45zM291.22 354.62h2.86v2.91h-2.86zM302.66 354.62h8.59v2.91h-8.59zM231.11 357.48h5.72v2.91h-5.72zM251.15 357.48h2.86v2.91h-2.86zM256.87 357.48h2.86v2.91h-2.86zM271.18 357.48h2.86v2.91h-2.86zM279.77 357.48h2.86v2.91h-2.86zM291.22 357.48h11.45v2.91h-11.45zM305.53 357.48h5.72v2.91h-5.72zM228.25 360.34h5.72v2.91h-5.72zM242.56 360.34h8.59v2.91h-8.59zM268.32 360.34h5.72v2.91h-5.72zM291.22 360.34h8.59v2.91h-8.59zM305.53 360.34h2.86v2.91h-2.86zM228.25 363.21h2.86v2.91h-2.86zM236.84 363.21h2.86v2.91h-2.86zM248.28 363.21h5.72v2.91h-5.72zM259.73 363.21h5.72v2.91h-5.72zM274.04 363.21h5.72v2.91h-5.72zM282.63 363.21h2.86v2.91h-2.86zM302.66 363.21h5.72v2.91h-5.72zM228.25 366.07h2.86v2.91h-2.86zM233.97 366.07h8.59v2.91h-8.59zM245.42 366.07h2.86v2.91h-2.86zM251.15 366.07h2.86v2.91h-2.86zM256.87 366.07h2.86v2.91h-2.86zM262.59 366.07h2.86v2.91h-2.86zM268.32 366.07h8.59v2.91h-8.59zM282.63 366.07h8.59v2.91h-8.59zM299.80 366.07h8.59v2.91h-8.59zM236.84 368.93h5.72v2.91h-5.72zM254.01 368.93h2.86v2.91h-2.86zM262.59 368.93h2.86v2.91h-2.86zM274.04 368.93h2.86v2.91h-2.86zM279.77 368.93h2.86v2.91h-2.86zM285.49 368.93h20.03v2.91h-20.03zM231.11 371.79h2.86v2.91h-2.86zM239.70 371.79h2.86v2.91h-2.86zM245.42 371.79h8.59v2.91h-8.59zM256.87 371.79h5.72v2.91h-5.72zM265.46 371.79h2.86v2.91h-2.86zM271.18 371.79h5.72v2.91h-5.72zM285.49 371.79h2.86v2.91h-2.86zM294.08 371.79h2.86v2.91h-2.86zM302.66 371.79h5.72v2.91h-5.72zM228.25 374.66h8.59v2.91h-8.59zM248.28 374.66h2.86v2.91h-2.86zM254.01 374.66h2.86v2.91h-2.86zM262.59 374.66h8.59v2.91h-8.59zM274.04 374.66h17.17v2.91h-17.17zM302.66 374.66h5.72v2.91h-5.72zM231.11 377.52h8.59v2.91h-8.59zM245.42 377.52h2.86v2.91h-2.86zM259.73 377.52h2.86v2.91h-2.86zM265.46 377.52h37.21v2.91h-37.21zM308.39 377.52h2.86v2.91h-2.86zM228.25 380.38h2.86v2.91h-2.86zM233.97 380.38h8.59v2.91h-8.59zM248.28 380.38h5.72v2.91h-5.72zM265.46 380.38h2.86v2.91h-2.86zM274.04 380.38h5.72v2.91h-5.72zM282.63 380.38h2.86v2.91h-2.86zM291.22 380.38h8.59v2.91h-8.59zM302.66 380.38h5.72v2.91h-5.72zM228.25 383.24h2.86v2.91h-2.86zM233.97 383.24h2.86v2.91h-2.86zM239.70 383.24h2.86v2.91h-2.86zM245.42 383.24h5.72v2.91h-5.72zM254.01 383.24h2.86v2.91h-2.86zM262.59 383.24h8.59v2.91h-8.59zM274.04 383.24h2.86v2.91h-2.86zM282.63 383.24h22.90v2.91h-22.90zM308.39 383.24h2.86v2.91h-2.86zM259.73 386.10h2.86v2.91h-2.86zM265.46 386.10h2.86v2.91h-2.86zM274.04 386.10h5.72v2.91h-5.72zM282.63 386.10h5.72v2.91h-5.72zM296.94 386.10h2.86v2.91h-2.86zM305.53 386.10h2.86v2.91h-2.86zM228.25 388.97h20.03v2.91h-20.03zM251.15 388.97h8.59v2.91h-8.59zM265.46 388.97h5.72v2.91h-5.72zM279.77 388.97h2.86v2.91h-2.86zM285.49 388.97h2.86v2.91h-2.86zM291.22 388.97h2.86v2.91h-2.86zM296.94 388.97h2.86v2.91h-2.86zM305.53 388.97h5.72v2.91h-5.72zM228.25 391.83h2.86v2.91h-2.86zM245.42 391.83h2.86v2.91h-2.86zM254.01 391.83h2.86v2.91h-2.86zM262.59 391.83h5.72v2.91h-5.72zM271.18 391.83h2.86v2.91h-2.86zM276.91 391.83h5.72v2.91h-5.72zM285.49 391.83h2.86v2.91h-2.86zM296.94 391.83h2.86v2.91h-2.86zM302.66 391.83h5.72v2.91h-5.72zM228.25 394.69h2.86v2.91h-2.86zM233.97 394.69h8.59v2.91h-8.59zM245.42 394.69h2.86v2.91h-2.86zM251.15 394.69h17.17v2.91h-17.17zM274.04 394.69h2.86v2.91h-2.86zM279.77 394.69h20.03v2.91h-20.03zM228.25 397.55h2.86v2.91h-2.86zM233.97 397.55h8.59v2.91h-8.59zM245.42 397.55h2.86v2.91h-2.86zM254.01 397.55h14.31v2.91h-14.31zM274.04 397.55h2.86v2.91h-2.86zM279.77 397.55h2.86v2.91h-2.86zM285.49 397.55h2.86v2.91h-2.86zM302.66 397.55h2.86v2.91h-2.86zM308.39 397.55h2.86v2.91h-2.86zM228.25 400.41h2.86v2.91h-2.86zM233.97 400.41h8.59v2.91h-8.59zM245.42 400.41h2.86v2.91h-2.86zM251.15 400.41h2.86v2.91h-2.86zM259.73 400.41h2.86v2.91h-2.86zM274.04 400.41h14.31v2.91h-14.31zM291.22 400.41h5.72v2.91h-5.72zM299.80 400.41h5.72v2.91h-5.72zM308.39 400.41h2.86v2.91h-2.86zM228.25 403.28h2.86v2.91h-2.86zM245.42 403.28h2.86v2.91h-2.86zM251.15 403.28h2.86v2.91h-2.86zM259.73 403.28h2.86v2.91h-2.86zM265.46 403.28h2.86v2.91h-2.86zM271.18 403.28h2.86v2.91h-2.86zM276.91 403.28h2.86v2.91h-2.86zM282.63 403.28h2.86v2.91h-2.86zM291.22 403.28h5.72v2.91h-5.72zM299.80 403.28h2.86v2.91h-2.86zM228.25 406.14h20.03v2.91h-20.03zM256.87 406.14h8.59v2.91h-8.59zM274.04 406.14h8.59v2.91h-8.59zM285.49 406.14h2.86v2.91h-2.86zM296.94 406.14h2.86v2.91h-2.86zM302.66 406.14h2.86v2.91h-2.86zM308.39 406.14h2.86v2.91h-2.86z" fill="#000"/><rect x="1679.2" y="488.0" width="110.2" height="110.8" rx="13" fill="#ed1c24"/><rect x="1688.7" y="497.5" width="91.2" height="91.8" rx="6" fill="#fff"/><path d="M1692.50 501.60h20.18v2.93h-20.18zM1718.44 501.60h2.88v2.93h-2.88zM1724.21 501.60h11.53v2.93h-11.53zM1747.27 501.60h5.77v2.93h-5.77zM1755.92 501.60h20.18v2.93h-20.18zM1692.50 504.48h2.88v2.93h-2.88zM1709.80 504.48h2.88v2.93h-2.88zM1727.09 504.48h2.88v2.93h-2.88zM1732.86 504.48h8.65v2.93h-8.65zM1744.39 504.48h5.77v2.93h-5.77zM1755.92 504.48h2.88v2.93h-2.88zM1773.22 504.48h2.88v2.93h-2.88zM1692.50 507.37h2.88v2.93h-2.88zM1698.27 507.37h8.65v2.93h-8.65zM1709.80 507.37h2.88v2.93h-2.88zM1715.56 507.37h5.77v2.93h-5.77zM1727.09 507.37h14.41v2.93h-14.41zM1755.92 507.37h2.88v2.93h-2.88zM1761.69 507.37h8.65v2.93h-8.65zM1773.22 507.37h2.88v2.93h-2.88zM1692.50 510.25h2.88v2.93h-2.88zM1698.27 510.25h8.65v2.93h-8.65zM1709.80 510.25h2.88v2.93h-2.88zM1715.56 510.25h8.65v2.93h-8.65zM1727.09 510.25h8.65v2.93h-8.65zM1738.62 510.25h14.41v2.93h-14.41zM1755.92 510.25h2.88v2.93h-2.88zM1761.69 510.25h8.65v2.93h-8.65zM1773.22 510.25h2.88v2.93h-2.88zM1692.50 513.13h2.88v2.93h-2.88zM1698.27 513.13h8.65v2.93h-8.65zM1709.80 513.13h2.88v2.93h-2.88zM1715.56 513.13h2.88v2.93h-2.88zM1724.21 513.13h17.30v2.93h-17.30zM1744.39 513.13h5.77v2.93h-5.77zM1755.92 513.13h2.88v2.93h-2.88zM1761.69 513.13h8.65v2.93h-8.65zM1773.22 513.13h2.88v2.93h-2.88zM1692.50 516.01h2.88v2.93h-2.88zM1709.80 516.01h2.88v2.93h-2.88zM1729.98 516.01h2.88v2.93h-2.88zM1738.62 516.01h2.88v2.93h-2.88zM1750.16 516.01h2.88v2.93h-2.88zM1755.92 516.01h2.88v2.93h-2.88zM1773.22 516.01h2.88v2.93h-2.88zM1692.50 518.90h20.18v2.93h-20.18zM1715.56 518.90h2.88v2.93h-2.88zM1721.33 518.90h2.88v2.93h-2.88zM1727.09 518.90h2.88v2.93h-2.88zM1732.86 518.90h2.88v2.93h-2.88zM1738.62 518.90h2.88v2.93h-2.88zM1744.39 518.90h2.88v2.93h-2.88zM1750.16 518.90h2.88v2.93h-2.88zM1755.92 518.90h20.18v2.93h-20.18zM1715.56 521.78h8.65v2.93h-8.65zM1727.09 521.78h5.77v2.93h-5.77zM1741.51 521.78h2.88v2.93h-2.88zM1750.16 521.78h2.88v2.93h-2.88zM1692.50 524.66h11.53v2.93h-11.53zM1709.80 524.66h8.65v2.93h-8.65zM1721.33 524.66h2.88v2.93h-2.88zM1727.09 524.66h8.65v2.93h-8.65zM1738.62 524.66h2.88v2.93h-2.88zM1755.92 524.66h2.88v2.93h-2.88zM1761.69 524.66h2.88v2.93h-2.88zM1767.45 524.66h2.88v2.93h-2.88zM1695.38 527.54h5.77v2.93h-5.77zM1704.03 527.54h2.88v2.93h-2.88zM1712.68 527.54h5.77v2.93h-5.77zM1721.33 527.54h2.88v2.93h-2.88zM1727.09 527.54h2.88v2.93h-2.88zM1732.86 527.54h2.88v2.93h-2.88zM1738.62 527.54h5.77v2.93h-5.77zM1747.27 527.54h2.88v2.93h-2.88zM1753.04 527.54h11.53v2.93h-11.53zM1695.38 530.43h2.88v2.93h-2.88zM1701.15 530.43h2.88v2.93h-2.88zM1709.80 530.43h2.88v2.93h-2.88zM1715.56 530.43h2.88v2.93h-2.88zM1732.86 530.43h2.88v2.93h-2.88zM1738.62 530.43h2.88v2.93h-2.88zM1750.16 530.43h8.65v2.93h-8.65zM1767.45 530.43h5.77v2.93h-5.77zM1692.50 533.31h11.53v2.93h-11.53zM1712.68 533.31h2.88v2.93h-2.88zM1721.33 533.31h5.77v2.93h-5.77zM1738.62 533.31h11.53v2.93h-11.53zM1758.80 533.31h8.65v2.93h-8.65zM1770.33 533.31h2.88v2.93h-2.88zM1701.15 536.19h2.88v2.93h-2.88zM1706.91 536.19h17.30v2.93h-17.30zM1727.09 536.19h2.88v2.93h-2.88zM1764.57 536.19h2.88v2.93h-2.88zM1770.33 536.19h5.77v2.93h-5.77zM1692.50 539.08h2.88v2.93h-2.88zM1698.27 539.08h5.77v2.93h-5.77zM1712.68 539.08h8.65v2.93h-8.65zM1724.21 539.08h2.88v2.93h-2.88zM1729.98 539.08h5.77v2.93h-5.77zM1741.51 539.08h2.88v2.93h-2.88zM1747.27 539.08h2.88v2.93h-2.88zM1753.04 539.08h2.88v2.93h-2.88zM1770.33 539.08h2.88v2.93h-2.88zM1698.27 541.96h2.88v2.93h-2.88zM1706.91 541.96h5.77v2.93h-5.77zM1718.44 541.96h2.88v2.93h-2.88zM1724.21 541.96h2.88v2.93h-2.88zM1732.86 541.96h2.88v2.93h-2.88zM1741.51 541.96h2.88v2.93h-2.88zM1770.33 541.96h5.77v2.93h-5.77zM1695.38 544.84h2.88v2.93h-2.88zM1704.03 544.84h5.77v2.93h-5.77zM1721.33 544.84h2.88v2.93h-2.88zM1732.86 544.84h2.88v2.93h-2.88zM1744.39 544.84h2.88v2.93h-2.88zM1750.16 544.84h11.53v2.93h-11.53zM1770.33 544.84h5.77v2.93h-5.77zM1695.38 547.72h5.77v2.93h-5.77zM1709.80 547.72h2.88v2.93h-2.88zM1721.33 547.72h8.65v2.93h-8.65zM1735.74 547.72h2.88v2.93h-2.88zM1741.51 547.72h2.88v2.93h-2.88zM1750.16 547.72h2.88v2.93h-2.88zM1755.92 547.72h2.88v2.93h-2.88zM1761.69 547.72h8.65v2.93h-8.65zM1773.22 547.72h2.88v2.93h-2.88zM1695.38 550.61h2.88v2.93h-2.88zM1701.15 550.61h8.65v2.93h-8.65zM1718.44 550.61h11.53v2.93h-11.53zM1732.86 550.61h5.77v2.93h-5.77zM1741.51 550.61h2.88v2.93h-2.88zM1747.27 550.61h2.88v2.93h-2.88zM1758.80 550.61h2.88v2.93h-2.88zM1764.57 550.61h2.88v2.93h-2.88zM1770.33 550.61h2.88v2.93h-2.88zM1692.50 553.49h14.41v2.93h-14.41zM1709.80 553.49h5.77v2.93h-5.77zM1718.44 553.49h5.77v2.93h-5.77zM1735.74 553.49h2.88v2.93h-2.88zM1750.16 553.49h11.53v2.93h-11.53zM1767.45 553.49h2.88v2.93h-2.88zM1695.38 556.37h11.53v2.93h-11.53zM1715.56 556.37h5.77v2.93h-5.77zM1727.09 556.37h5.77v2.93h-5.77zM1735.74 556.37h8.65v2.93h-8.65zM1753.04 556.37h8.65v2.93h-8.65zM1764.57 556.37h11.53v2.93h-11.53zM1692.50 559.26h11.53v2.93h-11.53zM1709.80 559.26h8.65v2.93h-8.65zM1724.21 559.26h2.88v2.93h-2.88zM1732.86 559.26h2.88v2.93h-2.88zM1747.27 559.26h25.94v2.93h-25.94zM1721.33 562.14h2.88v2.93h-2.88zM1727.09 562.14h8.65v2.93h-8.65zM1744.39 562.14h2.88v2.93h-2.88zM1750.16 562.14h2.88v2.93h-2.88zM1761.69 562.14h2.88v2.93h-2.88zM1692.50 565.02h20.18v2.93h-20.18zM1721.33 565.02h8.65v2.93h-8.65zM1738.62 565.02h14.41v2.93h-14.41zM1755.92 565.02h2.88v2.93h-2.88zM1761.69 565.02h5.77v2.93h-5.77zM1692.50 567.90h2.88v2.93h-2.88zM1709.80 567.90h2.88v2.93h-2.88zM1727.09 567.90h11.53v2.93h-11.53zM1741.51 567.90h11.53v2.93h-11.53zM1761.69 567.90h5.77v2.93h-5.77zM1773.22 567.90h2.88v2.93h-2.88zM1692.50 570.79h2.88v2.93h-2.88zM1698.27 570.79h8.65v2.93h-8.65zM1709.80 570.79h2.88v2.93h-2.88zM1715.56 570.79h2.88v2.93h-2.88zM1729.98 570.79h2.88v2.93h-2.88zM1744.39 570.79h28.83v2.93h-28.83zM1692.50 573.67h2.88v2.93h-2.88zM1698.27 573.67h8.65v2.93h-8.65zM1709.80 573.67h2.88v2.93h-2.88zM1715.56 573.67h5.77v2.93h-5.77zM1724.21 573.67h2.88v2.93h-2.88zM1732.86 573.67h5.77v2.93h-5.77zM1741.51 573.67h8.65v2.93h-8.65zM1753.04 573.67h5.77v2.93h-5.77zM1761.69 573.67h8.65v2.93h-8.65zM1773.22 573.67h2.88v2.93h-2.88zM1692.50 576.55h2.88v2.93h-2.88zM1698.27 576.55h8.65v2.93h-8.65zM1709.80 576.55h2.88v2.93h-2.88zM1721.33 576.55h2.88v2.93h-2.88zM1727.09 576.55h2.88v2.93h-2.88zM1732.86 576.55h23.06v2.93h-23.06zM1764.57 576.55h2.88v2.93h-2.88zM1773.22 576.55h2.88v2.93h-2.88zM1692.50 579.43h2.88v2.93h-2.88zM1709.80 579.43h2.88v2.93h-2.88zM1729.98 579.43h8.65v2.93h-8.65zM1747.27 579.43h8.65v2.93h-8.65zM1758.80 579.43h8.65v2.93h-8.65zM1770.33 579.43h2.88v2.93h-2.88zM1692.50 582.32h20.18v2.93h-20.18zM1715.56 582.32h2.88v2.93h-2.88zM1744.39 582.32h2.88v2.93h-2.88zM1764.57 582.32h2.88v2.93h-2.88zM1770.33 582.32h2.88v2.93h-2.88z" fill="#000"/><rect x="1680.0" y="704.8" width="112.0" height="110.0" rx="13" fill="#0af2f2"/><rect x="1689.5" y="714.3" width="93.0" height="91.0" rx="6" fill="#fff"/><path d="M1694.30 718.10h20.13v2.93h-20.13zM1717.31 718.10h5.75v2.93h-5.75zM1725.93 718.10h2.88v2.93h-2.88zM1731.69 718.10h2.88v2.93h-2.88zM1737.44 718.10h2.88v2.93h-2.88zM1757.57 718.10h20.13v2.93h-20.13zM1694.30 720.98h2.88v2.93h-2.88zM1711.56 720.98h2.88v2.93h-2.88zM1717.31 720.98h8.63v2.93h-8.63zM1728.81 720.98h2.88v2.93h-2.88zM1734.56 720.98h2.88v2.93h-2.88zM1740.31 720.98h5.75v2.93h-5.75zM1757.57 720.98h2.88v2.93h-2.88zM1774.82 720.98h2.88v2.93h-2.88zM1694.30 723.85h2.88v2.93h-2.88zM1700.05 723.85h8.63v2.93h-8.63zM1711.56 723.85h2.88v2.93h-2.88zM1723.06 723.85h2.88v2.93h-2.88zM1728.81 723.85h8.63v2.93h-8.63zM1743.19 723.85h2.88v2.93h-2.88zM1748.94 723.85h2.88v2.93h-2.88zM1757.57 723.85h2.88v2.93h-2.88zM1763.32 723.85h8.63v2.93h-8.63zM1774.82 723.85h2.88v2.93h-2.88zM1694.30 726.73h2.88v2.93h-2.88zM1700.05 726.73h8.63v2.93h-8.63zM1711.56 726.73h2.88v2.93h-2.88zM1723.06 726.73h5.75v2.93h-5.75zM1748.94 726.73h2.88v2.93h-2.88zM1757.57 726.73h2.88v2.93h-2.88zM1763.32 726.73h8.63v2.93h-8.63zM1774.82 726.73h2.88v2.93h-2.88zM1694.30 729.60h2.88v2.93h-2.88zM1700.05 729.60h8.63v2.93h-8.63zM1711.56 729.60h2.88v2.93h-2.88zM1723.06 729.60h5.75v2.93h-5.75zM1734.56 729.60h5.75v2.93h-5.75zM1743.19 729.60h11.50v2.93h-11.50zM1757.57 729.60h2.88v2.93h-2.88zM1763.32 729.60h8.63v2.93h-8.63zM1774.82 729.60h2.88v2.93h-2.88zM1694.30 732.48h2.88v2.93h-2.88zM1711.56 732.48h2.88v2.93h-2.88zM1717.31 732.48h2.88v2.93h-2.88zM1723.06 732.48h2.88v2.93h-2.88zM1728.81 732.48h5.75v2.93h-5.75zM1740.31 732.48h8.63v2.93h-8.63zM1751.82 732.48h2.88v2.93h-2.88zM1757.57 732.48h2.88v2.93h-2.88zM1774.82 732.48h2.88v2.93h-2.88zM1694.30 735.36h20.13v2.93h-20.13zM1717.31 735.36h2.88v2.93h-2.88zM1723.06 735.36h2.88v2.93h-2.88zM1728.81 735.36h2.88v2.93h-2.88zM1734.56 735.36h2.88v2.93h-2.88zM1740.31 735.36h2.88v2.93h-2.88zM1746.07 735.36h2.88v2.93h-2.88zM1751.82 735.36h2.88v2.93h-2.88zM1757.57 735.36h20.13v2.93h-20.13zM1720.18 738.23h5.75v2.93h-5.75zM1731.69 738.23h2.88v2.93h-2.88zM1740.31 738.23h5.75v2.93h-5.75zM1748.94 738.23h2.88v2.93h-2.88zM1697.18 741.11h2.88v2.93h-2.88zM1705.80 741.11h8.63v2.93h-8.63zM1717.31 741.11h5.75v2.93h-5.75zM1725.93 741.11h14.38v2.93h-14.38zM1746.07 741.11h2.88v2.93h-2.88zM1751.82 741.11h8.63v2.93h-8.63zM1766.20 741.11h11.50v2.93h-11.50zM1700.05 743.98h11.50v2.93h-11.50zM1717.31 743.98h2.88v2.93h-2.88zM1725.93 743.98h8.63v2.93h-8.63zM1737.44 743.98h2.88v2.93h-2.88zM1743.19 743.98h5.75v2.93h-5.75zM1754.69 743.98h8.63v2.93h-8.63zM1769.07 743.98h2.88v2.93h-2.88zM1694.30 746.86h8.63v2.93h-8.63zM1711.56 746.86h2.88v2.93h-2.88zM1723.06 746.86h2.88v2.93h-2.88zM1728.81 746.86h5.75v2.93h-5.75zM1737.44 746.86h8.63v2.93h-8.63zM1748.94 746.86h5.75v2.93h-5.75zM1757.57 746.86h2.88v2.93h-2.88zM1694.30 749.73h2.88v2.93h-2.88zM1705.80 749.73h2.88v2.93h-2.88zM1714.43 749.73h5.75v2.93h-5.75zM1725.93 749.73h8.63v2.93h-8.63zM1740.31 749.73h17.26v2.93h-17.26zM1763.32 749.73h2.88v2.93h-2.88zM1769.07 749.73h2.88v2.93h-2.88zM1700.05 752.61h2.88v2.93h-2.88zM1708.68 752.61h5.75v2.93h-5.75zM1723.06 752.61h2.88v2.93h-2.88zM1728.81 752.61h8.63v2.93h-8.63zM1740.31 752.61h5.75v2.93h-5.75zM1751.82 752.61h2.88v2.93h-2.88zM1757.57 752.61h2.88v2.93h-2.88zM1766.20 752.61h11.50v2.93h-11.50zM1694.30 755.49h11.50v2.93h-11.50zM1708.68 755.49h2.88v2.93h-2.88zM1714.43 755.49h2.88v2.93h-2.88zM1720.18 755.49h2.88v2.93h-2.88zM1731.69 755.49h2.88v2.93h-2.88zM1740.31 755.49h2.88v2.93h-2.88zM1748.94 755.49h8.63v2.93h-8.63zM1769.07 755.49h8.63v2.93h-8.63zM1694.30 758.36h2.88v2.93h-2.88zM1705.80 758.36h2.88v2.93h-2.88zM1711.56 758.36h5.75v2.93h-5.75zM1720.18 758.36h5.75v2.93h-5.75zM1728.81 758.36h5.75v2.93h-5.75zM1740.31 758.36h14.38v2.93h-14.38zM1760.44 758.36h2.88v2.93h-2.88zM1766.20 758.36h5.75v2.93h-5.75zM1774.82 758.36h2.88v2.93h-2.88zM1700.05 761.24h2.88v2.93h-2.88zM1705.80 761.24h2.88v2.93h-2.88zM1714.43 761.24h2.88v2.93h-2.88zM1725.93 761.24h2.88v2.93h-2.88zM1740.31 761.24h8.63v2.93h-8.63zM1757.57 761.24h2.88v2.93h-2.88zM1766.20 761.24h2.88v2.93h-2.88zM1774.82 761.24h2.88v2.93h-2.88zM1697.18 764.11h5.75v2.93h-5.75zM1711.56 764.11h14.38v2.93h-14.38zM1737.44 764.11h8.63v2.93h-8.63zM1748.94 764.11h2.88v2.93h-2.88zM1754.69 764.11h2.88v2.93h-2.88zM1760.44 764.11h8.63v2.93h-8.63zM1774.82 764.11h2.88v2.93h-2.88zM1697.18 766.99h11.50v2.93h-11.50zM1714.43 766.99h8.63v2.93h-8.63zM1734.56 766.99h8.63v2.93h-8.63zM1748.94 766.99h5.75v2.93h-5.75zM1757.57 766.99h2.88v2.93h-2.88zM1769.07 766.99h2.88v2.93h-2.88zM1702.93 769.87h2.88v2.93h-2.88zM1708.68 769.87h5.75v2.93h-5.75zM1717.31 769.87h2.88v2.93h-2.88zM1725.93 769.87h2.88v2.93h-2.88zM1731.69 769.87h5.75v2.93h-5.75zM1740.31 769.87h2.88v2.93h-2.88zM1748.94 769.87h2.88v2.93h-2.88zM1760.44 769.87h2.88v2.93h-2.88zM1769.07 769.87h8.63v2.93h-8.63zM1694.30 772.74h2.88v2.93h-2.88zM1702.93 772.74h2.88v2.93h-2.88zM1728.81 772.74h2.88v2.93h-2.88zM1740.31 772.74h2.88v2.93h-2.88zM1746.07 772.74h20.13v2.93h-20.13zM1771.95 772.74h2.88v2.93h-2.88zM1694.30 775.62h5.75v2.93h-5.75zM1702.93 775.62h5.75v2.93h-5.75zM1711.56 775.62h8.63v2.93h-8.63zM1725.93 775.62h8.63v2.93h-8.63zM1737.44 775.62h40.26v2.93h-40.26zM1717.31 778.49h8.63v2.93h-8.63zM1728.81 778.49h8.63v2.93h-8.63zM1740.31 778.49h2.88v2.93h-2.88zM1746.07 778.49h2.88v2.93h-2.88zM1751.82 778.49h2.88v2.93h-2.88zM1763.32 778.49h8.63v2.93h-8.63zM1694.30 781.37h20.13v2.93h-20.13zM1720.18 781.37h2.88v2.93h-2.88zM1725.93 781.37h2.88v2.93h-2.88zM1737.44 781.37h5.75v2.93h-5.75zM1748.94 781.37h5.75v2.93h-5.75zM1757.57 781.37h2.88v2.93h-2.88zM1763.32 781.37h2.88v2.93h-2.88zM1771.95 781.37h2.88v2.93h-2.88zM1694.30 784.24h2.88v2.93h-2.88zM1711.56 784.24h2.88v2.93h-2.88zM1717.31 784.24h8.63v2.93h-8.63zM1734.56 784.24h8.63v2.93h-8.63zM1746.07 784.24h8.63v2.93h-8.63zM1763.32 784.24h2.88v2.93h-2.88zM1774.82 784.24h2.88v2.93h-2.88zM1694.30 787.12h2.88v2.93h-2.88zM1700.05 787.12h8.63v2.93h-8.63zM1711.56 787.12h2.88v2.93h-2.88zM1720.18 787.12h5.75v2.93h-5.75zM1728.81 787.12h8.63v2.93h-8.63zM1743.19 787.12h5.75v2.93h-5.75zM1751.82 787.12h14.38v2.93h-14.38zM1771.95 787.12h5.75v2.93h-5.75zM1694.30 790.00h2.88v2.93h-2.88zM1700.05 790.00h8.63v2.93h-8.63zM1711.56 790.00h2.88v2.93h-2.88zM1717.31 790.00h5.75v2.93h-5.75zM1737.44 790.00h2.88v2.93h-2.88zM1743.19 790.00h5.75v2.93h-5.75zM1757.57 790.00h2.88v2.93h-2.88zM1763.32 790.00h2.88v2.93h-2.88zM1769.07 790.00h8.63v2.93h-8.63zM1694.30 792.87h2.88v2.93h-2.88zM1700.05 792.87h8.63v2.93h-8.63zM1711.56 792.87h2.88v2.93h-2.88zM1720.18 792.87h14.38v2.93h-14.38zM1754.69 792.87h2.88v2.93h-2.88zM1766.20 792.87h2.88v2.93h-2.88zM1771.95 792.87h2.88v2.93h-2.88zM1694.30 795.75h2.88v2.93h-2.88zM1711.56 795.75h2.88v2.93h-2.88zM1720.18 795.75h2.88v2.93h-2.88zM1725.93 795.75h8.63v2.93h-8.63zM1740.31 795.75h17.26v2.93h-17.26zM1771.95 795.75h5.75v2.93h-5.75zM1694.30 798.62h20.13v2.93h-20.13zM1723.06 798.62h5.75v2.93h-5.75zM1731.69 798.62h5.75v2.93h-5.75zM1743.19 798.62h8.63v2.93h-8.63zM1754.69 798.62h2.88v2.93h-2.88zM1766.20 798.62h11.50v2.93h-11.50z" fill="#000"/><rect x="1548.4" y="1035.1" width="108.1" height="109.0" rx="14" fill="#e8681e"/><rect x="1557.4" y="1044.1" width="90.1" height="91.0" rx="6" fill="#fff"/><path d="M1561.70 1048.85h19.67v2.86h-19.67zM1592.61 1048.85h8.43v2.86h-8.43zM1612.29 1048.85h8.43v2.86h-8.43zM1623.53 1048.85h19.67v2.86h-19.67zM1561.70 1051.66h2.81v2.86h-2.81zM1578.56 1051.66h2.81v2.86h-2.81zM1598.23 1051.66h2.81v2.86h-2.81zM1606.67 1051.66h2.81v2.86h-2.81zM1615.10 1051.66h2.81v2.86h-2.81zM1623.53 1051.66h2.81v2.86h-2.81zM1640.39 1051.66h2.81v2.86h-2.81zM1561.70 1054.47h2.81v2.86h-2.81zM1567.32 1054.47h8.43v2.86h-8.43zM1578.56 1054.47h2.81v2.86h-2.81zM1586.99 1054.47h2.81v2.86h-2.81zM1592.61 1054.47h2.81v2.86h-2.81zM1612.29 1054.47h5.62v2.86h-5.62zM1623.53 1054.47h2.81v2.86h-2.81zM1629.15 1054.47h8.43v2.86h-8.43zM1640.39 1054.47h2.81v2.86h-2.81zM1561.70 1057.28h2.81v2.86h-2.81zM1567.32 1057.28h8.43v2.86h-8.43zM1578.56 1057.28h2.81v2.86h-2.81zM1584.18 1057.28h5.62v2.86h-5.62zM1592.61 1057.28h2.81v2.86h-2.81zM1598.23 1057.28h8.43v2.86h-8.43zM1609.48 1057.28h2.81v2.86h-2.81zM1615.10 1057.28h2.81v2.86h-2.81zM1623.53 1057.28h2.81v2.86h-2.81zM1629.15 1057.28h8.43v2.86h-8.43zM1640.39 1057.28h2.81v2.86h-2.81zM1561.70 1060.09h2.81v2.86h-2.81zM1567.32 1060.09h8.43v2.86h-8.43zM1578.56 1060.09h2.81v2.86h-2.81zM1584.18 1060.09h5.62v2.86h-5.62zM1606.67 1060.09h5.62v2.86h-5.62zM1615.10 1060.09h5.62v2.86h-5.62zM1623.53 1060.09h2.81v2.86h-2.81zM1629.15 1060.09h8.43v2.86h-8.43zM1640.39 1060.09h2.81v2.86h-2.81zM1561.70 1062.90h2.81v2.86h-2.81zM1578.56 1062.90h2.81v2.86h-2.81zM1584.18 1062.90h5.62v2.86h-5.62zM1603.86 1062.90h8.43v2.86h-8.43zM1623.53 1062.90h2.81v2.86h-2.81zM1640.39 1062.90h2.81v2.86h-2.81zM1561.70 1065.71h19.67v2.86h-19.67zM1584.18 1065.71h2.81v2.86h-2.81zM1589.80 1065.71h2.81v2.86h-2.81zM1595.42 1065.71h2.81v2.86h-2.81zM1601.04 1065.71h2.81v2.86h-2.81zM1606.67 1065.71h2.81v2.86h-2.81zM1612.29 1065.71h2.81v2.86h-2.81zM1617.91 1065.71h2.81v2.86h-2.81zM1623.53 1065.71h19.67v2.86h-19.67zM1584.18 1068.52h11.24v2.86h-11.24zM1598.23 1068.52h8.43v2.86h-8.43zM1609.48 1068.52h2.81v2.86h-2.81zM1615.10 1068.52h2.81v2.86h-2.81zM1570.13 1071.33h2.81v2.86h-2.81zM1578.56 1071.33h11.24v2.86h-11.24zM1592.61 1071.33h2.81v2.86h-2.81zM1598.23 1071.33h2.81v2.86h-2.81zM1612.29 1071.33h14.05v2.86h-14.05zM1637.58 1071.33h5.62v2.86h-5.62zM1564.51 1074.14h11.24v2.86h-11.24zM1584.18 1074.14h8.43v2.86h-8.43zM1598.23 1074.14h2.81v2.86h-2.81zM1603.86 1074.14h2.81v2.86h-2.81zM1615.10 1074.14h2.81v2.86h-2.81zM1623.53 1074.14h2.81v2.86h-2.81zM1629.15 1074.14h2.81v2.86h-2.81zM1634.77 1074.14h2.81v2.86h-2.81zM1564.51 1076.95h8.43v2.86h-8.43zM1578.56 1076.95h2.81v2.86h-2.81zM1584.18 1076.95h5.62v2.86h-5.62zM1598.23 1076.95h2.81v2.86h-2.81zM1603.86 1076.95h2.81v2.86h-2.81zM1617.91 1076.95h2.81v2.86h-2.81zM1623.53 1076.95h2.81v2.86h-2.81zM1634.77 1076.95h5.62v2.86h-5.62zM1570.13 1079.76h2.81v2.86h-2.81zM1586.99 1079.76h2.81v2.86h-2.81zM1595.42 1079.76h2.81v2.86h-2.81zM1603.86 1079.76h2.81v2.86h-2.81zM1609.48 1079.76h2.81v2.86h-2.81zM1615.10 1079.76h5.62v2.86h-5.62zM1623.53 1079.76h5.62v2.86h-5.62zM1631.96 1079.76h8.43v2.86h-8.43zM1567.32 1082.57h2.81v2.86h-2.81zM1572.94 1082.57h14.05v2.86h-14.05zM1589.80 1082.57h2.81v2.86h-2.81zM1598.23 1082.57h2.81v2.86h-2.81zM1609.48 1082.57h16.86v2.86h-16.86zM1631.96 1082.57h2.81v2.86h-2.81zM1637.58 1082.57h5.62v2.86h-5.62zM1564.51 1085.38h2.81v2.86h-2.81zM1570.13 1085.38h2.81v2.86h-2.81zM1584.18 1085.38h2.81v2.86h-2.81zM1595.42 1085.38h2.81v2.86h-2.81zM1601.04 1085.38h2.81v2.86h-2.81zM1606.67 1085.38h2.81v2.86h-2.81zM1620.72 1085.38h14.05v2.86h-14.05zM1637.58 1085.38h2.81v2.86h-2.81zM1561.70 1088.19h22.48v2.86h-22.48zM1589.80 1088.19h2.81v2.86h-2.81zM1598.23 1088.19h11.24v2.86h-11.24zM1612.29 1088.19h5.62v2.86h-5.62zM1620.72 1088.19h2.81v2.86h-2.81zM1629.15 1088.19h2.81v2.86h-2.81zM1634.77 1088.19h2.81v2.86h-2.81zM1586.99 1091.01h2.81v2.86h-2.81zM1595.42 1091.01h8.43v2.86h-8.43zM1606.67 1091.01h5.62v2.86h-5.62zM1615.10 1091.01h2.81v2.86h-2.81zM1620.72 1091.01h11.24v2.86h-11.24zM1640.39 1091.01h2.81v2.86h-2.81zM1564.51 1093.82h2.81v2.86h-2.81zM1570.13 1093.82h5.62v2.86h-5.62zM1578.56 1093.82h5.62v2.86h-5.62zM1586.99 1093.82h25.29v2.86h-25.29zM1615.10 1093.82h5.62v2.86h-5.62zM1623.53 1093.82h5.62v2.86h-5.62zM1631.96 1093.82h2.81v2.86h-2.81zM1637.58 1093.82h2.81v2.86h-2.81zM1564.51 1096.63h2.81v2.86h-2.81zM1572.94 1096.63h2.81v2.86h-2.81zM1581.37 1096.63h2.81v2.86h-2.81zM1586.99 1096.63h2.81v2.86h-2.81zM1609.48 1096.63h5.62v2.86h-5.62zM1617.91 1096.63h5.62v2.86h-5.62zM1626.34 1096.63h2.81v2.86h-2.81zM1637.58 1096.63h5.62v2.86h-5.62zM1564.51 1099.44h19.67v2.86h-19.67zM1589.80 1099.44h2.81v2.86h-2.81zM1595.42 1099.44h5.62v2.86h-5.62zM1603.86 1099.44h2.81v2.86h-2.81zM1609.48 1099.44h5.62v2.86h-5.62zM1629.15 1099.44h14.05v2.86h-14.05zM1561.70 1102.25h11.24v2.86h-11.24zM1589.80 1102.25h5.62v2.86h-5.62zM1601.04 1102.25h16.86v2.86h-16.86zM1626.34 1102.25h5.62v2.86h-5.62zM1637.58 1102.25h2.81v2.86h-2.81zM1567.32 1105.06h2.81v2.86h-2.81zM1572.94 1105.06h8.43v2.86h-8.43zM1592.61 1105.06h5.62v2.86h-5.62zM1609.48 1105.06h22.48v2.86h-22.48zM1634.77 1105.06h8.43v2.86h-8.43zM1584.18 1107.87h2.81v2.86h-2.81zM1589.80 1107.87h2.81v2.86h-2.81zM1595.42 1107.87h2.81v2.86h-2.81zM1601.04 1107.87h5.62v2.86h-5.62zM1609.48 1107.87h2.81v2.86h-2.81zM1617.91 1107.87h2.81v2.86h-2.81zM1629.15 1107.87h14.05v2.86h-14.05zM1561.70 1110.68h19.67v2.86h-19.67zM1586.99 1110.68h2.81v2.86h-2.81zM1601.04 1110.68h5.62v2.86h-5.62zM1609.48 1110.68h5.62v2.86h-5.62zM1617.91 1110.68h2.81v2.86h-2.81zM1623.53 1110.68h2.81v2.86h-2.81zM1629.15 1110.68h11.24v2.86h-11.24zM1561.70 1113.49h2.81v2.86h-2.81zM1578.56 1113.49h2.81v2.86h-2.81zM1589.80 1113.49h2.81v2.86h-2.81zM1598.23 1113.49h5.62v2.86h-5.62zM1609.48 1113.49h2.81v2.86h-2.81zM1617.91 1113.49h2.81v2.86h-2.81zM1629.15 1113.49h5.62v2.86h-5.62zM1637.58 1113.49h2.81v2.86h-2.81zM1561.70 1116.30h2.81v2.86h-2.81zM1567.32 1116.30h8.43v2.86h-8.43zM1578.56 1116.30h2.81v2.86h-2.81zM1589.80 1116.30h2.81v2.86h-2.81zM1598.23 1116.30h2.81v2.86h-2.81zM1603.86 1116.30h2.81v2.86h-2.81zM1609.48 1116.30h2.81v2.86h-2.81zM1617.91 1116.30h25.29v2.86h-25.29zM1561.70 1119.11h2.81v2.86h-2.81zM1567.32 1119.11h8.43v2.86h-8.43zM1578.56 1119.11h2.81v2.86h-2.81zM1586.99 1119.11h8.43v2.86h-8.43zM1598.23 1119.11h2.81v2.86h-2.81zM1603.86 1119.11h5.62v2.86h-5.62zM1615.10 1119.11h2.81v2.86h-2.81zM1620.72 1119.11h2.81v2.86h-2.81zM1640.39 1119.11h2.81v2.86h-2.81zM1561.70 1121.92h2.81v2.86h-2.81zM1567.32 1121.92h8.43v2.86h-8.43zM1578.56 1121.92h2.81v2.86h-2.81zM1589.80 1121.92h5.62v2.86h-5.62zM1598.23 1121.92h5.62v2.86h-5.62zM1615.10 1121.92h2.81v2.86h-2.81zM1620.72 1121.92h5.62v2.86h-5.62zM1631.96 1121.92h2.81v2.86h-2.81zM1637.58 1121.92h2.81v2.86h-2.81zM1561.70 1124.73h2.81v2.86h-2.81zM1578.56 1124.73h2.81v2.86h-2.81zM1584.18 1124.73h2.81v2.86h-2.81zM1592.61 1124.73h2.81v2.86h-2.81zM1598.23 1124.73h11.24v2.86h-11.24zM1617.91 1124.73h5.62v2.86h-5.62zM1631.96 1124.73h2.81v2.86h-2.81zM1637.58 1124.73h5.62v2.86h-5.62zM1561.70 1127.54h19.67v2.86h-19.67zM1584.18 1127.54h8.43v2.86h-8.43zM1603.86 1127.54h5.62v2.86h-5.62zM1623.53 1127.54h2.81v2.86h-2.81zM1629.15 1127.54h2.81v2.86h-2.81zM1634.77 1127.54h2.81v2.86h-2.81z" fill="#000"/><rect x="1555.2" y="1213.2" width="105.8" height="104.4" rx="14" fill="#ff0af5"/><rect x="1564.0" y="1222.0" width="88.2" height="86.8" rx="6" fill="#fff"/><path d="M1568.90 1226.20h18.92v2.75h-18.92zM1590.53 1226.20h5.41v2.75h-5.41zM1598.64 1226.20h2.70v2.75h-2.70zM1604.04 1226.20h5.41v2.75h-5.41zM1612.16 1226.20h2.70v2.75h-2.70zM1620.27 1226.20h5.41v2.75h-5.41zM1628.38 1226.20h18.92v2.75h-18.92zM1568.90 1228.90h2.70v2.75h-2.70zM1585.12 1228.90h2.70v2.75h-2.70zM1595.93 1228.90h2.70v2.75h-2.70zM1604.04 1228.90h5.41v2.75h-5.41zM1617.56 1228.90h2.70v2.75h-2.70zM1628.38 1228.90h2.70v2.75h-2.70zM1644.60 1228.90h2.70v2.75h-2.70zM1568.90 1231.61h2.70v2.75h-2.70zM1574.31 1231.61h8.11v2.75h-8.11zM1585.12 1231.61h2.70v2.75h-2.70zM1598.64 1231.61h10.81v2.75h-10.81zM1617.56 1231.61h5.41v2.75h-5.41zM1628.38 1231.61h2.70v2.75h-2.70zM1633.78 1231.61h8.11v2.75h-8.11zM1644.60 1231.61h2.70v2.75h-2.70zM1568.90 1234.31h2.70v2.75h-2.70zM1574.31 1234.31h8.11v2.75h-8.11zM1585.12 1234.31h2.70v2.75h-2.70zM1601.34 1234.31h5.41v2.75h-5.41zM1612.16 1234.31h2.70v2.75h-2.70zM1617.56 1234.31h8.11v2.75h-8.11zM1628.38 1234.31h2.70v2.75h-2.70zM1633.78 1234.31h8.11v2.75h-8.11zM1644.60 1234.31h2.70v2.75h-2.70zM1568.90 1237.01h2.70v2.75h-2.70zM1574.31 1237.01h8.11v2.75h-8.11zM1585.12 1237.01h2.70v2.75h-2.70zM1590.53 1237.01h5.41v2.75h-5.41zM1598.64 1237.01h5.41v2.75h-5.41zM1606.75 1237.01h8.11v2.75h-8.11zM1617.56 1237.01h5.41v2.75h-5.41zM1628.38 1237.01h2.70v2.75h-2.70zM1633.78 1237.01h8.11v2.75h-8.11zM1644.60 1237.01h2.70v2.75h-2.70zM1568.90 1239.72h2.70v2.75h-2.70zM1585.12 1239.72h2.70v2.75h-2.70zM1593.23 1239.72h2.70v2.75h-2.70zM1604.04 1239.72h2.70v2.75h-2.70zM1614.86 1239.72h2.70v2.75h-2.70zM1620.27 1239.72h2.70v2.75h-2.70zM1628.38 1239.72h2.70v2.75h-2.70zM1644.60 1239.72h2.70v2.75h-2.70zM1568.90 1242.42h18.92v2.75h-18.92zM1590.53 1242.42h2.70v2.75h-2.70zM1595.93 1242.42h2.70v2.75h-2.70zM1601.34 1242.42h2.70v2.75h-2.70zM1606.75 1242.42h2.70v2.75h-2.70zM1612.16 1242.42h2.70v2.75h-2.70zM1617.56 1242.42h2.70v2.75h-2.70zM1622.97 1242.42h2.70v2.75h-2.70zM1628.38 1242.42h18.92v2.75h-18.92zM1595.93 1245.12h2.70v2.75h-2.70zM1604.04 1245.12h2.70v2.75h-2.70zM1609.45 1245.12h2.70v2.75h-2.70zM1614.86 1245.12h5.41v2.75h-5.41zM1622.97 1245.12h2.70v2.75h-2.70zM1574.31 1247.83h2.70v2.75h-2.70zM1579.71 1247.83h8.11v2.75h-8.11zM1595.93 1247.83h2.70v2.75h-2.70zM1604.04 1247.83h2.70v2.75h-2.70zM1609.45 1247.83h8.11v2.75h-8.11zM1625.67 1247.83h5.41v2.75h-5.41zM1636.49 1247.83h2.70v2.75h-2.70zM1641.89 1247.83h5.41v2.75h-5.41zM1571.60 1250.53h5.41v2.75h-5.41zM1579.71 1250.53h5.41v2.75h-5.41zM1587.82 1250.53h2.70v2.75h-2.70zM1593.23 1250.53h2.70v2.75h-2.70zM1598.64 1250.53h2.70v2.75h-2.70zM1606.75 1250.53h10.81v2.75h-10.81zM1620.27 1250.53h5.41v2.75h-5.41zM1628.38 1250.53h2.70v2.75h-2.70zM1633.78 1250.53h8.11v2.75h-8.11zM1571.60 1253.23h5.41v2.75h-5.41zM1585.12 1253.23h2.70v2.75h-2.70zM1590.53 1253.23h2.70v2.75h-2.70zM1595.93 1253.23h10.81v2.75h-10.81zM1609.45 1253.23h2.70v2.75h-2.70zM1620.27 1253.23h10.81v2.75h-10.81zM1636.49 1253.23h5.41v2.75h-5.41zM1571.60 1255.94h10.81v2.75h-10.81zM1587.82 1255.94h2.70v2.75h-2.70zM1593.23 1255.94h2.70v2.75h-2.70zM1598.64 1255.94h2.70v2.75h-2.70zM1604.04 1255.94h2.70v2.75h-2.70zM1612.16 1255.94h2.70v2.75h-2.70zM1617.56 1255.94h2.70v2.75h-2.70zM1628.38 1255.94h5.41v2.75h-5.41zM1639.19 1255.94h2.70v2.75h-2.70zM1644.60 1255.94h2.70v2.75h-2.70zM1571.60 1258.64h5.41v2.75h-5.41zM1585.12 1258.64h2.70v2.75h-2.70zM1593.23 1258.64h8.11v2.75h-8.11zM1606.75 1258.64h5.41v2.75h-5.41zM1625.67 1258.64h13.52v2.75h-13.52zM1641.89 1258.64h2.70v2.75h-2.70zM1568.90 1261.34h13.52v2.75h-13.52zM1587.82 1261.34h2.70v2.75h-2.70zM1593.23 1261.34h5.41v2.75h-5.41zM1606.75 1261.34h2.70v2.75h-2.70zM1614.86 1261.34h13.52v2.75h-13.52zM1636.49 1261.34h2.70v2.75h-2.70zM1641.89 1261.34h5.41v2.75h-5.41zM1574.31 1264.05h2.70v2.75h-2.70zM1582.42 1264.05h5.41v2.75h-5.41zM1590.53 1264.05h2.70v2.75h-2.70zM1612.16 1264.05h8.11v2.75h-8.11zM1625.67 1264.05h2.70v2.75h-2.70zM1633.78 1264.05h2.70v2.75h-2.70zM1639.19 1264.05h2.70v2.75h-2.70zM1644.60 1264.05h2.70v2.75h-2.70zM1577.01 1266.75h2.70v2.75h-2.70zM1598.64 1266.75h2.70v2.75h-2.70zM1606.75 1266.75h2.70v2.75h-2.70zM1612.16 1266.75h10.81v2.75h-10.81zM1628.38 1266.75h2.70v2.75h-2.70zM1633.78 1266.75h10.81v2.75h-10.81zM1568.90 1269.46h10.81v2.75h-10.81zM1585.12 1269.46h8.11v2.75h-8.11zM1595.93 1269.46h2.70v2.75h-2.70zM1601.34 1269.46h2.70v2.75h-2.70zM1617.56 1269.46h2.70v2.75h-2.70zM1628.38 1269.46h8.11v2.75h-8.11zM1639.19 1269.46h2.70v2.75h-2.70zM1577.01 1272.16h2.70v2.75h-2.70zM1590.53 1272.16h2.70v2.75h-2.70zM1595.93 1272.16h13.52v2.75h-13.52zM1614.86 1272.16h2.70v2.75h-2.70zM1620.27 1272.16h10.81v2.75h-10.81zM1644.60 1272.16h2.70v2.75h-2.70zM1571.60 1274.86h2.70v2.75h-2.70zM1579.71 1274.86h8.11v2.75h-8.11zM1590.53 1274.86h13.52v2.75h-13.52zM1617.56 1274.86h2.70v2.75h-2.70zM1631.08 1274.86h2.70v2.75h-2.70zM1577.01 1277.57h5.41v2.75h-5.41zM1590.53 1277.57h2.70v2.75h-2.70zM1595.93 1277.57h8.11v2.75h-8.11zM1609.45 1277.57h5.41v2.75h-5.41zM1617.56 1277.57h2.70v2.75h-2.70zM1628.38 1277.57h2.70v2.75h-2.70zM1636.49 1277.57h5.41v2.75h-5.41zM1644.60 1277.57h2.70v2.75h-2.70zM1568.90 1280.27h2.70v2.75h-2.70zM1577.01 1280.27h2.70v2.75h-2.70zM1585.12 1280.27h2.70v2.75h-2.70zM1595.93 1280.27h2.70v2.75h-2.70zM1601.34 1280.27h2.70v2.75h-2.70zM1606.75 1280.27h2.70v2.75h-2.70zM1614.86 1280.27h5.41v2.75h-5.41zM1622.97 1280.27h18.92v2.75h-18.92zM1590.53 1282.97h2.70v2.75h-2.70zM1595.93 1282.97h5.41v2.75h-5.41zM1604.04 1282.97h2.70v2.75h-2.70zM1609.45 1282.97h2.70v2.75h-2.70zM1617.56 1282.97h8.11v2.75h-8.11zM1633.78 1282.97h2.70v2.75h-2.70zM1641.89 1282.97h5.41v2.75h-5.41zM1568.90 1285.68h18.92v2.75h-18.92zM1590.53 1285.68h16.22v2.75h-16.22zM1609.45 1285.68h2.70v2.75h-2.70zM1614.86 1285.68h2.70v2.75h-2.70zM1620.27 1285.68h5.41v2.75h-5.41zM1628.38 1285.68h2.70v2.75h-2.70zM1633.78 1285.68h2.70v2.75h-2.70zM1639.19 1285.68h5.41v2.75h-5.41zM1568.90 1288.38h2.70v2.75h-2.70zM1585.12 1288.38h2.70v2.75h-2.70zM1593.23 1288.38h10.81v2.75h-10.81zM1609.45 1288.38h5.41v2.75h-5.41zM1617.56 1288.38h8.11v2.75h-8.11zM1633.78 1288.38h2.70v2.75h-2.70zM1644.60 1288.38h2.70v2.75h-2.70zM1568.90 1291.08h2.70v2.75h-2.70zM1574.31 1291.08h8.11v2.75h-8.11zM1585.12 1291.08h2.70v2.75h-2.70zM1598.64 1291.08h10.81v2.75h-10.81zM1612.16 1291.08h2.70v2.75h-2.70zM1622.97 1291.08h13.52v2.75h-13.52zM1644.60 1291.08h2.70v2.75h-2.70zM1568.90 1293.79h2.70v2.75h-2.70zM1574.31 1293.79h8.11v2.75h-8.11zM1585.12 1293.79h2.70v2.75h-2.70zM1590.53 1293.79h5.41v2.75h-5.41zM1601.34 1293.79h2.70v2.75h-2.70zM1606.75 1293.79h2.70v2.75h-2.70zM1612.16 1293.79h8.11v2.75h-8.11zM1622.97 1293.79h5.41v2.75h-5.41zM1636.49 1293.79h8.11v2.75h-8.11zM1568.90 1296.49h2.70v2.75h-2.70zM1574.31 1296.49h8.11v2.75h-8.11zM1585.12 1296.49h2.70v2.75h-2.70zM1609.45 1296.49h8.11v2.75h-8.11zM1620.27 1296.49h5.41v2.75h-5.41zM1628.38 1296.49h2.70v2.75h-2.70zM1636.49 1296.49h10.81v2.75h-10.81zM1568.90 1299.19h2.70v2.75h-2.70zM1585.12 1299.19h2.70v2.75h-2.70zM1593.23 1299.19h2.70v2.75h-2.70zM1614.86 1299.19h2.70v2.75h-2.70zM1633.78 1299.19h2.70v2.75h-2.70zM1641.89 1299.19h5.41v2.75h-5.41zM1568.90 1301.90h18.92v2.75h-18.92zM1590.53 1301.90h2.70v2.75h-2.70zM1595.93 1301.90h5.41v2.75h-5.41zM1604.04 1301.90h8.11v2.75h-8.11zM1617.56 1301.90h5.41v2.75h-5.41zM1628.38 1301.90h2.70v2.75h-2.70zM1633.78 1301.90h5.41v2.75h-5.41zM1644.60 1301.90h2.70v2.75h-2.70z" fill="#000"/><ellipse cx="584.7" cy="135.2" rx="26.6" ry="11.7" fill="none" stroke="#14f014" stroke-width="3.8"/><path d="M584.70 137.00L566.13 110.93A22.8 22.8 0 1 1 603.27 110.93Z" fill="#14f014" stroke="#fff" stroke-width="3.4" stroke-linejoin="round" paint-order="stroke"/><circle cx="584.7" cy="97.7" r="12.8" fill="#fff"/><text x="576.50" y="108.16" font-size="29.3" font-weight="bold" fill="#000" stroke="#000" stroke-width="1.3" stroke-linejoin="round">5</text><ellipse cx="178.2" cy="391.0" rx="25.8" ry="11.8" fill="none" stroke="#0a0aee" stroke-width="4.5"/><path d="M178.20 392.50L159.83 365.60A22.25 22.25 0 1 1 196.57 365.60Z" fill="#0a0aee" stroke="#fff" stroke-width="3.4" stroke-linejoin="round" paint-order="stroke"/><circle cx="178.2" cy="353.1" r="12.8" fill="#fff"/><text x="170.04" y="363.50" font-size="29.3" font-weight="bold" fill="#000" stroke="#000" stroke-width="1.3" stroke-linejoin="round">6</text><ellipse cx="1827.6" cy="567.5" rx="26.6" ry="12.0" fill="none" stroke="#000" stroke-width="4.2"/><path d="M1827.60 569.30L1808.69 541.99A23 23 0 1 1 1846.51 541.99Z" fill="#ed1c24" stroke="#fff" stroke-width="3.4" stroke-linejoin="round" paint-order="stroke"/><circle cx="1827.6" cy="528.9" r="13.3" fill="#fff"/><text x="1818.94" y="539.81" font-size="30.6" font-weight="bold" fill="#000" stroke="#000" stroke-width="1.3" stroke-linejoin="round">4</text><ellipse cx="1828.4" cy="781.4" rx="27.4" ry="12.2" fill="none" stroke="#0af2f2" stroke-width="4.7"/><path d="M1828.40 784.00L1808.72 755.47A23.9 23.9 0 1 1 1848.08 755.47Z" fill="#0af2f2" stroke="#fff" stroke-width="3.4" stroke-linejoin="round" paint-order="stroke"/><circle cx="1828.4" cy="741.9" r="13.3" fill="#fff"/><text x="1820.10" y="752.81" font-size="30.6" font-weight="bold" fill="#000" stroke="#000" stroke-width="1.3" stroke-linejoin="round">3</text><ellipse cx="1702.8" cy="1114.5" rx="29.0" ry="13.5" fill="none" stroke="#e8681e" stroke-width="4.9"/><path d="M1702.80 1117.00L1682.03 1086.39A25.1 25.1 0 1 1 1723.57 1086.39Z" fill="#e8681e" stroke="#fff" stroke-width="3.4" stroke-linejoin="round" paint-order="stroke"/><circle cx="1702.8" cy="1072.3" r="14.7" fill="#fff"/><text x="1693.49" y="1084.35" font-size="33.8" font-weight="bold" fill="#000" stroke="#000" stroke-width="1.3" stroke-linejoin="round">2</text><ellipse cx="1703.0" cy="1289.8" rx="28.6" ry="13.4" fill="none" stroke="#ff0af5" stroke-width="4.9"/><path d="M1703.00 1292.40L1682.36 1262.21A25 25 0 1 1 1723.64 1262.21Z" fill="#ff0af5" stroke="#fff" stroke-width="3.4" stroke-linejoin="round" paint-order="stroke"/><circle cx="1703.0" cy="1248.1" r="14.2" fill="#fff"/><text x="1693.34" y="1259.74" font-size="32.7" font-weight="bold" fill="#000" stroke="#000" stroke-width="1.3" stroke-linejoin="round">1</text><g transform="translate(875 55) scale(0.10500)"><clipPath id="pc1"><rect x="85" y="65" width="1805" height="1020"/></clipPath><g clip-path="url(#pc1)"><rect x="60" y="40" width="1860" height="1070" fill="#c3a688"/><rect x="60" y="40" width="1860" height="140" fill="#d6d2cc"/><ellipse cx="1250" cy="150" rx="420" ry="50" fill="#8f9a90" filter="url(#b1)"/><rect x="60" y="170" width="1860" height="430" fill="#7d8a60" filter="url(#b2)"/><ellipse cx="400" cy="330" rx="300" ry="90" fill="#a0a27c" filter="url(#b2)"/><ellipse cx="1500" cy="330" rx="350" ry="120" fill="#93a070" filter="url(#b2)"/><ellipse cx="1650" cy="480" rx="300" ry="70" fill="#5f7446" filter="url(#b2)"/><ellipse cx="350" cy="600" rx="230" ry="70" fill="#4f6a3c" filter="url(#b1)"/><ellipse cx="700" cy="590" rx="200" ry="60" fill="#55703f" filter="url(#b1)"/><ellipse cx="170" cy="480" rx="120" ry="40" fill="#a04a3a" filter="url(#b1)"/><rect x="60" y="640" width="1860" height="460" fill="#c9aa8a" filter="url(#b2)"/><polygon points="100,760 1000,690 1000,720 260,830 270,1085 230,1085 230,830 100,800" fill="#5c6044" filter="url(#b1)"/><polygon points="1250,640 1700,560 1880,700 1880,760 1700,640 1290,680" fill="#6a6a4a" filter="url(#b1)"/><polygon points="1170,340 1215,420 1250,640 1380,800 1500,870 1080,1010 1000,930 1040,700 1110,520 1130,400" fill="#a09484" filter="url(#b1)"/><polygon points="1170,340 1215,420 1250,640 1330,760 1130,800 1110,520" fill="#b4a89a"/><polygon points="1080,860 1500,800 1540,860 1100,1000" fill="#6e6a5c" filter="url(#b1)"/><polygon points="500,880 980,760 990,900 560,1020" fill="#9a8a78" filter="url(#b1)"/><polygon points="560,980 1000,900 1000,940 580,1030" fill="#5a5448" filter="url(#b1)"/><polygon points="1300,960 1640,920 1640,960 1320,1010" fill="#6a6252" filter="url(#b1)"/><ellipse cx="1750" cy="640" rx="110" ry="90" fill="#6f7a48" filter="url(#b1)"/><ellipse cx="725" cy="370" rx="205" ry="195" fill="#cf651f"/><ellipse cx="565" cy="235" rx="62" ry="60" fill="#cf651f"/><rect x="400" y="350" width="730" height="42" fill="#f4e2d0" opacity="0.85"/><rect x="590" y="430" width="370" height="40" fill="#f4e2d0" opacity="0.85"/><rect x="1665" y="150" width="110" height="36" fill="#e03030"/><rect x="1780" y="150" width="55" height="36" fill="#eee"/></g><rect x="85" y="65" width="1805" height="1020" fill="none" stroke="#ee2020" stroke-width="19.048"/></g><g transform="translate(480 535) scale(0.11001)"><clipPath id="pc2"><rect x="345" y="85" width="1420" height="805"/></clipPath><g clip-path="url(#pc2)"><rect x="330" y="70" width="1450" height="840" fill="#9cc2da"/><rect x="330" y="70" width="1450" height="90" fill="#5f9ec8" filter="url(#b1)"/><ellipse cx="700" cy="260" rx="300" ry="130" fill="#e6eef2" filter="url(#b2)"/><ellipse cx="1520" cy="400" rx="260" ry="200" fill="#e8eef0" filter="url(#b2)"/><ellipse cx="430" cy="560" rx="170" ry="130" fill="#dfe8ec" filter="url(#b2)"/><ellipse cx="1080" cy="180" rx="220" ry="70" fill="#dde8ee" filter="url(#b2)"/><ellipse cx="1000" cy="420" rx="200" ry="100" fill="#c8dce8" filter="url(#b2)"/><polygon points="340,760 430,640 500,560 560,380 620,560 700,640 780,600 900,520 980,360 1040,520 1120,440 1210,190 1290,420 1400,460 1560,500 1700,600 1760,640 1760,900 340,900" fill="#a8652a" filter="url(#b1)"/><polygon points="700,700 860,600 1000,560 1180,600 1260,700 1240,800 760,800" fill="#b87830" filter="url(#b1)"/><polygon points="470,590 560,500 640,590 690,660 450,670" fill="#6a78aa" filter="url(#b1)"/><polygon points="720,650 860,570 980,600 1060,700 800,730" fill="#6676ae" filter="url(#b1)"/><polygon points="1000,520 1120,460 1230,470 1270,590 1060,610" fill="#5e6ca6" filter="url(#b1)"/><polygon points="1460,520 1600,540 1700,620 1730,700 1500,660" fill="#6a7ab0" filter="url(#b1)"/><polygon points="560,700 700,690 760,760 600,780" fill="#7080b0" filter="url(#b1)"/><polygon points="1290,640 1335,420 1368,300 1402,420 1450,640" fill="#e2a81e"/><polygon points="1180,660 1600,640 1720,850 1120,860" fill="#c47a20" filter="url(#b1)"/><polygon points="1240,700 1560,690 1600,800 1230,810" fill="#d8962a" filter="url(#b1)"/><polygon points="1210,180 1192,330 1238,330" fill="#9a6a2a"/><polygon points="560,370 525,520 598,520" fill="#8a6a40" filter="url(#b1)"/><rect x="330" y="810" width="1450" height="100" fill="#c4603a" filter="url(#b1)"/><ellipse cx="440" cy="730" rx="80" ry="50" fill="#708a4a" filter="url(#b1)"/><ellipse cx="770" cy="330" rx="128" ry="125" fill="#f7a41d"/><ellipse cx="650" cy="205" rx="50" ry="48" fill="#f7a41d"/><rect x="560" y="300" width="620" height="48" fill="#eef2f4" opacity="0.8"/><ellipse cx="1640" cy="150" rx="72" ry="70" fill="#4aa84a"/></g><rect x="345" y="85" width="1420" height="805" fill="none" stroke="#ee2020" stroke-width="18.18"/></g><g transform="translate(800 575) scale(0.12000)"><clipPath id="pc3"><rect x="338" y="90" width="1345" height="758"/></clipPath><g clip-path="url(#pc3)"><rect x="330" y="80" width="1370" height="780" fill="#e4e8e2"/><rect x="330" y="560" width="1370" height="110" fill="#cfd8c0" filter="url(#b1)"/><ellipse cx="460" cy="480" rx="130" ry="120" fill="#5a8c48" filter="url(#b1)"/><ellipse cx="460" cy="590" rx="80" ry="50" fill="#4a7c3c" filter="url(#b1)"/><ellipse cx="820" cy="420" rx="130" ry="100" fill="#6c9e54" filter="url(#b1)"/><ellipse cx="1570" cy="480" rx="140" ry="150" fill="#4c8240" filter="url(#b1)"/><ellipse cx="1480" cy="560" rx="80" ry="60" fill="#4c8240" filter="url(#b1)"/><ellipse cx="1100" cy="510" rx="45" ry="45" fill="#5a9448" filter="url(#b1)"/><rect x="330" y="650" width="1370" height="210" fill="#80b248"/><rect x="330" y="600" width="1370" height="60" fill="#a8b890" filter="url(#b1)"/><rect x="360" y="632" width="1310" height="8" fill="#e8dcc0"/><rect x="360" y="660" width="1310" height="6" fill="#e8dcc0"/><ellipse cx="1000" cy="800" rx="600" ry="50" fill="#74a83c" filter="url(#b2)"/><polygon points="600,395 640,365 670,420 720,540 800,580 810,640 790,750 770,750 770,660 720,650 690,750 670,750 690,600 660,520 640,430" fill="#3c3530"/><polygon points="780,420 810,400 850,520 940,590 960,680 950,760 930,760 925,680 880,660 870,760 850,760 850,620 820,540" fill="#6e5a40"/><polygon points="1140,460 1170,430 1230,520 1330,580 1390,740 1370,740 1330,650 1290,640 1280,750 1260,750 1250,620 1200,540" fill="#6a5844"/><rect x="570" y="190" width="510" height="44" fill="#5a4a3a" opacity="0.8"/><rect x="590" y="272" width="450" height="30" fill="#4a3a2c"/><polygon points="1090,260 1130,200 1180,300 1200,180 1260,290 1300,200 1350,300 1400,190 1470,300 1380,320 1150,330 1150,400 1110,420" fill="#4a3c30" opacity="0.85"/></g><rect x="338" y="90" width="1345" height="758" fill="none" stroke="#ee2020" stroke-width="16.666"/></g><g transform="translate(340 995) scale(0.12000)"><clipPath id="pc4"><rect x="225" y="83" width="1490" height="842"/></clipPath><g clip-path="url(#pc4)"><rect x="220" y="80" width="1500" height="850" fill="#4e4036"/><ellipse cx="700" cy="230" rx="420" ry="140" fill="#8a7e70" filter="url(#b2)"/><ellipse cx="1500" cy="330" rx="260" ry="200" fill="#7a5e4c" filter="url(#b2)"/><ellipse cx="820" cy="480" rx="160" ry="110" fill="#7a5240" filter="url(#b1)"/><polygon points="280,220 380,160 470,240 480,900 260,900" fill="#3a2e26" filter="url(#b1)"/><polygon points="1160,250 1260,170 1370,250 1400,900 1180,900" fill="#3e3630" filter="url(#b1)"/><polygon points="1510,600 1580,540 1640,600 1640,900 1510,900" fill="#6a6258" filter="url(#b1)"/><polygon points="910,330 975,110 1050,330 1090,560 1080,900 900,900 890,560" fill="#6a5c50" filter="url(#b1)"/><polygon points="920,320 975,115 1040,320 1030,400 930,400" fill="#b8b0a4" filter="url(#b1)"/><ellipse cx="985" cy="520" rx="70" ry="100" fill="#9a8470" filter="url(#b1)"/><rect x="220" y="700" width="1500" height="230" fill="#3a3028" filter="url(#b2)"/><ellipse cx="1400" cy="800" rx="150" ry="90" fill="#2e2824" filter="url(#b1)"/><ellipse cx="1590" cy="150" rx="82" ry="80" fill="#3f9a3f"/><rect x="410" y="430" width="470" height="70" fill="#f2f0ec" opacity="0.9"/><rect x="460" y="540" width="190" height="22" fill="#d8d4cc" opacity="0.8"/><rect x="460" y="590" width="330" height="24" fill="#d8d4cc" opacity="0.8"/><polygon points="945,100 975,90 1010,100 1020,170 940,170" fill="#e8e8e4"/></g><rect x="225" y="83" width="1490" height="842" fill="none" stroke="#ee2020" stroke-width="16.666"/></g><g transform="translate(595 995) scale(0.12000)"><clipPath id="pc5"><rect x="240" y="72" width="1485" height="850"/></clipPath><g clip-path="url(#pc5)"><rect x="230" y="60" width="1510" height="880" fill="#8a7a3c"/><rect x="230" y="60" width="1510" height="260" fill="#6e6434" filter="url(#b2)"/><polygon points="700,90 1100,110 1500,300 1690,380 1600,520 1300,560 1000,420 800,250" fill="#dfa040" filter="url(#b3)"/><ellipse cx="1450" cy="420" rx="230" ry="90" fill="#eab050" filter="url(#b2)"/><ellipse cx="500" cy="300" rx="300" ry="120" fill="#7a6c36" filter="url(#b2)"/><ellipse cx="1100" cy="560" rx="500" ry="80" fill="#b08a40" filter="url(#b2)"/><ellipse cx="580" cy="520" rx="150" ry="160" fill="#3e5a26" filter="url(#b1)"/><ellipse cx="780" cy="590" rx="80" ry="80" fill="#3a5a28" filter="url(#b1)"/><polygon points="320,650 350,430 380,650" fill="#5a4428"/><polygon points="1000,640 1030,480 1060,640" fill="#4a3a24"/><rect x="230" y="600" width="1510" height="150" fill="#5a4426" filter="url(#b1)"/><ellipse cx="1500" cy="610" rx="120" ry="25" fill="#5a6a8a" filter="url(#b1)"/><rect x="230" y="690" width="1510" height="60" fill="#4a3418" filter="url(#b1)"/><rect x="230" y="745" width="1510" height="60" fill="#b09040" filter="url(#b1)"/><rect x="230" y="790" width="1510" height="140" fill="#a8b030" filter="url(#b1)"/><ellipse cx="900" cy="840" rx="500" ry="40" fill="#c8c828" filter="url(#b2)"/></g><rect x="240" y="72" width="1485" height="850" fill="none" stroke="#ee2020" stroke-width="16.666"/></g><g transform="translate(780 1190) scale(0.10681)"><clipPath id="pc6"><rect x="245" y="95" width="1420" height="960"/></clipPath><g clip-path="url(#pc6)"><rect x="230" y="80" width="1450" height="990" fill="#b8804a"/><rect x="230" y="80" width="1450" height="300" fill="#5a9acc"/><ellipse cx="1000" cy="330" rx="700" ry="70" fill="#cfe0ea" filter="url(#b2)"/><ellipse cx="900" cy="240" rx="220" ry="40" fill="#d8e6ee" filter="url(#b1)"/><rect x="230" y="100" width="1450" height="50" fill="#3f88c4" filter="url(#b1)"/><rect x="230" y="370" width="1450" height="80" fill="#4a5268" filter="url(#b1)"/><rect x="230" y="440" width="1450" height="160" fill="#e09a30" filter="url(#b2)"/><ellipse cx="620" cy="470" rx="200" ry="50" fill="#f8c040" filter="url(#b2)"/><rect x="230" y="590" width="1450" height="480" fill="#8a6a50" filter="url(#b2)"/><ellipse cx="400" cy="700" rx="170" ry="50" fill="#e0d8d0" filter="url(#b1)"/><ellipse cx="700" cy="780" rx="220" ry="50" fill="#e8c8a0" filter="url(#b1)"/><ellipse cx="1000" cy="680" rx="160" ry="40" fill="#e8d8c8" filter="url(#b1)"/><ellipse cx="330" cy="800" rx="100" ry="40" fill="#d8d0d0" filter="url(#b1)"/><ellipse cx="600" cy="900" rx="300" ry="80" fill="#5a4a40" filter="url(#b2)"/><polygon points="1280,530 1480,490 1640,560 1640,1060 560,1060 900,950 1180,800 1250,650" fill="#2e3c30" filter="url(#b1)"/><ellipse cx="1460" cy="640" rx="160" ry="70" fill="#3a5060" filter="url(#b1)"/><ellipse cx="1080" cy="900" rx="170" ry="80" fill="#4a5870" filter="url(#b1)"/><polygon points="1150,960 1350,820 1640,800 1640,1060 1100,1060" fill="#4a8a2c" filter="url(#b1)"/><ellipse cx="1310" cy="790" rx="40" ry="60" fill="#c8d0d8" filter="url(#b1)"/></g><rect x="245" y="95" width="1420" height="960" fill="none" stroke="#ee2020" stroke-width="18.724"/></g><text x="886.77" y="187.50" font-family="Liberation Serif, serif" font-size="16" font-weight="bold" fill="#000" textLength="182" lengthAdjust="spacingAndGlyphs">อุทยานประวัติศาสตร์ศรีสัชนาลัย</text><text x="867.94" y="207.80" font-family="Liberation Serif, serif" font-size="16" font-weight="bold" fill="#000" textLength="218" lengthAdjust="spacingAndGlyphs">ต.ศรีสัชนาลัย อ.ศรีสัชนาลัย จ.สุโขทัย</text><text x="541.86" y="652.50" font-family="Liberation Serif, serif" font-size="16" font-weight="bold" fill="#000" textLength="89.7" lengthAdjust="spacingAndGlyphs">วัดพิพัฒน์มงคล</text><text x="486.34" y="672.50" font-family="Liberation Serif, serif" font-size="16" font-weight="bold" fill="#000" textLength="198.7" lengthAdjust="spacingAndGlyphs">ต.ทุ่งเสลี่ยม อ.ทุ่งเสลี่ยม จ.สุโขทัย</text><text x="864.90" y="696.20" font-family="Liberation Serif, serif" font-size="16" font-weight="bold" fill="#000" textLength="98.8" lengthAdjust="spacingAndGlyphs">สวนสัตว์สนามบิน</text><text x="805.14" y="716.60" font-family="Liberation Serif, serif" font-size="16" font-weight="bold" fill="#000" textLength="220.3" lengthAdjust="spacingAndGlyphs">ต.คลองกระจง อ.สวรรคโลก จ.สุโขทัย</text><text x="432.66" y="1125.80" font-family="Liberation Serif, serif" font-size="16" font-weight="bold" fill="#000" textLength="48" lengthAdjust="spacingAndGlyphs">วัดศรีชุม</text><text x="351.14" y="1146.00" font-family="Liberation Serif, serif" font-size="16" font-weight="bold" fill="#000" textLength="208.3" lengthAdjust="spacingAndGlyphs">ต.เมืองเก่า อ.เมืองสุโขทัย จ.สุโขทัย</text><text x="633.17" y="1125.80" font-family="Liberation Serif, serif" font-size="16" font-weight="bold" fill="#000" textLength="158.7" lengthAdjust="spacingAndGlyphs">อุทยานประวัติศาสตร์สุโขทัย</text><text x="604.74" y="1146.00" font-family="Liberation Serif, serif" font-size="16" font-weight="bold" fill="#000" textLength="208.5" lengthAdjust="spacingAndGlyphs">ต.เมืองเก่า อ.เมืองสุโขทัย จ.สุโขทัย</text><text x="805.35" y="1323.50" font-family="Liberation Serif, serif" font-size="16" font-weight="bold" fill="#000" textLength="153.4" lengthAdjust="spacingAndGlyphs">อุทยานแห่งชาติรามคำแหง</text><text x="791.93" y="1343.80" font-family="Liberation Serif, serif" font-size="16" font-weight="bold" fill="#000" textLength="181.5" lengthAdjust="spacingAndGlyphs">ต.นาเชิงคีรี อ.คีรีมาศ จ.สุโขทัย</text><g transform="translate(400 135) scale(0.12300)"><path d="M270 500 C180 490 120 600 95 730 L265 745 Z" fill="#f7b52c" stroke="#111" stroke-width="12" stroke-linejoin="round"/><path d="M250 560 C200 580 165 650 150 715 L255 722 Z" fill="#fbdc8c"/><path d="M1085 500 C1170 490 1225 600 1250 730 L1085 745 Z" fill="#f7b52c" stroke="#111" stroke-width="12" stroke-linejoin="round"/><path d="M1100 560 C1150 580 1185 650 1200 715 L1095 722 Z" fill="#fbdc8c"/><ellipse cx="555" cy="1445" rx="62" ry="28" fill="#555" stroke="#111" stroke-width="12" stroke-linejoin="round"/><ellipse cx="780" cy="1445" rx="62" ry="28" fill="#555" stroke="#111" stroke-width="12" stroke-linejoin="round"/><path d="M430 1150 C470 1300 500 1380 510 1440 L655 1440 L668 1350 L682 1440 L830 1440 C840 1380 870 1300 910 1150 Z" fill="#f26422" stroke="#111" stroke-width="12" stroke-linejoin="round"/><path d="M455 1200 C485 1300 505 1370 520 1430" fill="none" stroke="#f7e23a" stroke-width="14" stroke-dasharray="26 14"/><path d="M885 1200 C855 1300 835 1370 820 1430" fill="none" stroke="#f7e23a" stroke-width="14" stroke-dasharray="26 14"/><path d="M480 1195 C600 1230 740 1230 860 1195" fill="none" stroke="#f4f0e0" stroke-width="13" stroke-dasharray="30 14"/><path d="M420 950 C350 1010 350 1110 400 1150 C480 1190 600 1170 670 1130 C740 1170 860 1190 940 1150 C990 1110 990 1010 920 950 C830 930 510 930 420 950 Z" fill="#f26422" stroke="#111" stroke-width="12" stroke-linejoin="round"/><path d="M395 1000 C400 1040 420 1060 450 1060 L590 1045" fill="none" stroke="#f7e23a" stroke-width="14" stroke-dasharray="26 14"/><path d="M945 1000 C940 1040 920 1060 890 1060 L750 1045" fill="none" stroke="#f7e23a" stroke-width="14" stroke-dasharray="26 14"/><path d="M400 1130 C480 1175 590 1165 670 1125 C750 1165 860 1175 940 1130" fill="none" stroke="#111" stroke-width="8"/><ellipse cx="672" cy="672" rx="412" ry="286" fill="#f9a21c" stroke="#111" stroke-width="12" stroke-linejoin="round"/><path d="M515 900 L560 1010 M825 900 L780 1010" stroke="#111" stroke-width="12" fill="none"/><path d="M530 910 L800 910 L760 1030 L580 1030 Z" fill="#f9a21c"/><ellipse cx="672" cy="1040" rx="76" ry="100" fill="#e8e8e8" stroke="#111" stroke-width="12" stroke-linejoin="round"/><path d="M672 945 V1135" stroke="#999" stroke-width="6"/><ellipse cx="650" cy="1020" rx="30" ry="60" fill="#fff"/><ellipse cx="440" cy="650" rx="112" ry="152" fill="#fff" stroke="#111" stroke-width="12" stroke-linejoin="round"/><ellipse cx="450" cy="660" rx="88" ry="130" fill="#7b4a1c"/><ellipse cx="452" cy="675" rx="52" ry="98" fill="#0a0a0a"/><ellipse cx="405" cy="600" rx="24" ry="28" fill="#fff"/><ellipse cx="905" cy="650" rx="112" ry="152" fill="#fff" stroke="#111" stroke-width="12" stroke-linejoin="round"/><ellipse cx="895" cy="660" rx="88" ry="130" fill="#7b4a1c"/><ellipse cx="893" cy="675" rx="52" ry="98" fill="#0a0a0a"/><ellipse cx="935" cy="600" rx="24" ry="28" fill="#fff"/><path d="M340 790 H545 M800 790 H1005" stroke="#f9a21c" stroke-width="26"/><path d="M232 470 C240 250 420 95 665 92 C910 95 1090 250 1102 470 C1060 490 1030 450 880 440 C780 440 740 490 665 490 C590 490 560 440 450 440 C300 450 270 490 232 470 Z" fill="#f5e332" stroke="#111" stroke-width="12" stroke-linejoin="round"/><path d="M480 150 L560 420 M850 150 L790 420" stroke="#c9b41f" stroke-width="6" fill="none"/><path d="M255 455 C400 400 930 400 1085 455" stroke="#d6c024" stroke-width="7" fill="none"/><ellipse cx="665" cy="250" rx="105" ry="110" fill="#e6cc3a" stroke="#9a7e20" stroke-width="9"/><ellipse cx="665" cy="250" rx="72" ry="76" fill="none" stroke="#9a7e20" stroke-width="9" stroke-dasharray="12 6"/><path d="M615 275 L665 195 L715 275 Z M625 295 H705" fill="#c8a830" stroke="#9a7e20" stroke-width="8"/></g><g transform="translate(1355 295) scale(0.10030)"><path d="M290 560 C200 560 160 650 140 740 L300 770 Z" fill="#f2a82c"/><path d="M280 600 C225 610 195 670 180 735 L290 750 Z" fill="#f3cf86"/><path d="M1000 510 C1100 490 1170 600 1200 715 L1010 730 Z" fill="#f6ae2a"/><path d="M1020 560 C1090 560 1140 630 1160 700 L1020 715 Z" fill="#f7d690"/><ellipse cx="510" cy="1415" rx="70" ry="32" fill="#6a6a70"/><ellipse cx="720" cy="1425" rx="70" ry="30" fill="#6a6a70"/><path d="M420 1180 C440 1300 450 1360 460 1410 L590 1410 L610 1310 L650 1420 L790 1420 C800 1340 820 1260 830 1180 Z" fill="url(#gBody)"/><path d="M330 1010 C420 960 800 950 900 1010 C960 1080 950 1190 880 1230 C840 1200 830 1185 830 1185 L420 1185 C400 1130 350 1120 290 1090 Z" fill="url(#gBody)"/><path d="M425 1168 H830" stroke="#222" stroke-width="18"/><path d="M425 1168 H830" stroke="#eee" stroke-width="12" stroke-dasharray="36 14"/><path d="M905 1130 L935 1120 L925 1210 L895 1220 Z" fill="#222"/><path d="M915 1130 L920 1210" stroke="#f2da30" stroke-width="10"/><path d="M260 1000 C280 950 330 940 350 990 L340 1080 C300 1100 260 1080 250 1040 Z" fill="#f4f4f6" stroke="#c8c8d0" stroke-width="6"/><ellipse cx="625" cy="665" rx="385" ry="345" fill="url(#gHead)"/><ellipse cx="340" cy="640" rx="72" ry="135" fill="#f4eee6"/><ellipse cx="335" cy="645" rx="58" ry="120" fill="#7a4516"/><ellipse cx="335" cy="655" rx="42" ry="98" fill="#0c0c10"/><ellipse cx="315" cy="585" rx="16" ry="20" fill="#fff"/><ellipse cx="780" cy="640" rx="108" ry="138" fill="#f4eee6"/><ellipse cx="785" cy="645" rx="88" ry="120" fill="#7a4516"/><ellipse cx="785" cy="660" rx="62" ry="95" fill="#0c0c10"/><ellipse cx="738" cy="580" rx="24" ry="26" fill="#fff"/><path d="M1000 500 C1000 640 920 760 740 850" fill="none" stroke="#efe23c" stroke-width="12"/><path d="M285 780 C300 830 320 850 345 870" fill="none" stroke="#efe23c" stroke-width="10"/><path d="M340 860 C350 750 450 690 540 710 C640 730 720 800 740 860 C720 950 640 1040 540 1050 C440 1060 350 980 340 860 Z" fill="url(#gMask)"/><path d="M440 725 C500 705 560 730 590 760" fill="none" stroke="#b8b8c0" stroke-width="8"/><path d="M640 900 L690 890 L690 960 L650 975 Z" fill="none" stroke="#444" stroke-width="6"/><path d="M205 470 C195 280 380 148 620 148 C860 148 1040 290 1037 480 C1025 505 1000 500 980 488 C900 445 760 425 600 428 C440 432 320 455 240 492 C220 500 205 492 205 470 Z" fill="url(#gHelm)"/><path d="M215 462 C330 410 480 392 620 392 C780 392 920 420 1030 470" fill="none" stroke="#d9c43a" stroke-width="10"/><ellipse cx="510" cy="215" rx="130" ry="68" fill="none" stroke="#c9ac30" stroke-width="8" transform="rotate(-8 510 215)"/><ellipse cx="510" cy="215" rx="95" ry="45" fill="none" stroke="#c9ac30" stroke-width="6" transform="rotate(-8 510 215)"/></g><g transform="translate(165 1070) scale(0.10030)"><circle cx="225" cy="530" r="150" fill="url(#gPink)"/><circle cx="250" cy="560" r="78" fill="#fbeef6"/><circle cx="225" cy="530" r="40" fill="#e83ab0"/><path d="M330 640 C250 650 190 680 170 740 L260 800 L360 780 Z" fill="#f0a22c"/><path d="M300 700 C250 710 220 730 210 760 L270 785 Z" fill="#f2cd8a"/><path d="M1040 430 C1110 470 1140 560 1130 640 L1040 620 Z" fill="#ec9a20"/><ellipse cx="680" cy="1410" rx="62" ry="34" fill="#e0209a"/><ellipse cx="810" cy="1410" rx="66" ry="34" fill="#e0209a"/><path d="M500 1000 C560 930 900 930 960 990 L1070 1010 L1060 1090 L950 1090 L930 1170 C960 1240 970 1320 950 1390 L520 1400 C480 1320 500 1230 540 1170 C500 1100 480 1050 500 1000 Z" fill="url(#gBody)"/><path d="M540 1170 C680 1200 820 1195 935 1165" fill="none" stroke="#222" stroke-width="18"/><path d="M540 1170 C680 1200 820 1195 935 1165" fill="none" stroke="#eee" stroke-width="11" stroke-dasharray="34 14"/><path d="M495 1020 C520 1100 540 1130 545 1170 L500 1320" fill="none" stroke="#222" stroke-width="16"/><path d="M495 1020 C520 1100 540 1130 545 1170 L500 1320" fill="none" stroke="#f2da30" stroke-width="10" stroke-dasharray="28 14"/><path d="M1060 1010 C1110 990 1160 1000 1165 1040 C1160 1090 1110 1110 1060 1095 Z" fill="#f2f2f4" stroke="#c4c4cc" stroke-width="6"/><path d="M650 1110 C690 1080 760 1110 790 1150 C800 1190 740 1200 690 1195 C650 1180 630 1140 650 1110 Z" fill="#f4f4f6" stroke="#c4c4cc" stroke-width="6"/><ellipse cx="700" cy="640" rx="380" ry="330" fill="url(#gHead)"/><ellipse cx="590" cy="620" rx="150" ry="165" fill="#f6efe6" transform="rotate(-15 590 620)"/><ellipse cx="600" cy="625" rx="112" ry="135" fill="#7a4516" transform="rotate(-15 600 625)"/><ellipse cx="610" cy="645" rx="72" ry="100" fill="#0c0c10" transform="rotate(-15 610 645)"/><ellipse cx="565" cy="555" rx="26" ry="22" fill="#fff"/><ellipse cx="985" cy="530" rx="75" ry="140" fill="#f6efe6"/><ellipse cx="990" cy="535" rx="55" ry="118" fill="#7a4516"/><ellipse cx="995" cy="550" rx="34" ry="88" fill="#0c0c10"/><ellipse cx="975" cy="490" rx="14" ry="18" fill="#fff"/><path d="M410 560 L460 570 M405 600 L455 605 M410 645 L458 640 M1020 420 L1050 400 M1040 460 L1075 445" stroke="#3a2a10" stroke-width="9"/><path d="M340 640 C370 760 520 830 690 850" fill="none" stroke="#eedc30" stroke-width="12"/><path d="M660 790 C690 690 800 610 880 600 C960 620 1040 720 1050 820 C1040 900 960 960 860 975 C760 960 680 900 660 790 Z" fill="url(#gMask)"/><path d="M800 640 C840 615 900 610 940 640" fill="none" stroke="#b8b8c0" stroke-width="8"/><path d="M730 870 L775 860 L780 930 L745 940 Z" fill="none" stroke="#444" stroke-width="6"/><path d="M283 440 C255 290 420 125 640 88 C830 65 1010 175 1042 350 C1047 385 1022 392 1000 380 C900 350 770 375 650 425 C530 470 420 488 330 492 C298 492 288 465 283 440 Z" fill="url(#gHelm)"/><path d="M300 458 C440 448 560 412 680 375 C800 338 920 335 1035 365" fill="none" stroke="#d9c43a" stroke-width="10"/><ellipse cx="715" cy="160" rx="120" ry="55" fill="none" stroke="#c9ac30" stroke-width="8" transform="rotate(5 715 160)"/><ellipse cx="715" cy="160" rx="85" ry="35" fill="none" stroke="#c9ac30" stroke-width="6" transform="rotate(5 715 160)"/><ellipse cx="500" cy="240" rx="14" ry="30" fill="#fdf8b0" transform="rotate(30 500 240)"/></g><rect x="0" y="1465.1" width="2000" height="80" fill="#f7a62b"/><rect x="1332.3" y="1465.1" width="1.6" height="80" fill="#fff"/><g transform="translate(1570 1440) scale(0.06796)"><path d="M620 900 C560 960 550 1080 590 1160 L620 1300 L760 1305 L770 1230 L790 1300 L880 1290 L900 1130 C960 1120 1040 1080 1060 1040 L1000 960 C900 900 720 880 620 900 Z" fill="#f2622a" stroke="#1a1206" stroke-width="15" stroke-linejoin="round"/><ellipse cx="690" cy="1310" rx="70" ry="22" fill="#5a4a40"/><ellipse cx="830" cy="1300" rx="60" ry="20" fill="#5a4a40"/><path d="M600 950 C570 1020 570 1100 600 1170 L630 1290" fill="none" stroke="#f2c832" stroke-width="12" stroke-dasharray="26 12"/><path d="M600 1105 C700 1120 800 1115 900 1095" fill="none" stroke="#f2c832" stroke-width="10"/><ellipse cx="790" cy="1090" rx="60" ry="32" fill="#fff" stroke="#1a1206" stroke-width="15" stroke-linejoin="round"/><path d="M560 520 C450 520 380 620 330 740 L560 770 Z" fill="#f9b730" stroke="#1a1206" stroke-width="15" stroke-linejoin="round"/><path d="M545 570 C470 580 420 650 385 730 L550 745 Z" fill="#fbdc8c"/><path d="M560 560 C560 480 700 440 900 470 C1100 480 1300 520 1380 600 C1400 720 1340 860 1260 930 C1220 1000 1160 1070 1070 1075 L1000 960 C860 930 700 900 620 820 C570 760 555 660 560 560 Z" fill="#f9a61f" stroke="#1a1206" stroke-width="15" stroke-linejoin="round"/><path d="M1250 930 C1300 920 1360 950 1375 985 C1340 1020 1290 1025 1260 1015 Z" fill="#fff" stroke="#1a1206" stroke-width="15" stroke-linejoin="round"/><path d="M980 920 C1010 960 1040 975 1075 985" fill="none" stroke="#1a1206" stroke-width="13"/><ellipse cx="855" cy="650" rx="105" ry="150" fill="#fff" transform="rotate(-14 855 650)" stroke="#1a1206" stroke-width="15" stroke-linejoin="round"/><ellipse cx="850" cy="665" rx="78" ry="125" fill="#4a2a14" transform="rotate(-14 850 665)"/><ellipse cx="835" cy="680" rx="45" ry="95" fill="#0a0a14" transform="rotate(-14 835 680)"/><circle cx="880" cy="630" r="26" fill="#fff"/><ellipse cx="1270" cy="700" rx="62" ry="135" fill="#fff" transform="rotate(22 1270 700)" stroke="#1a1206" stroke-width="15" stroke-linejoin="round"/><ellipse cx="1262" cy="705" rx="44" ry="112" fill="#4a2a14" transform="rotate(22 1262 705)"/><ellipse cx="1245" cy="715" rx="26" ry="85" fill="#0a0a14" transform="rotate(22 1245 715)"/><circle cx="1290" cy="665" r="20" fill="#fff"/><path d="M490 490 C560 300 720 170 930 165 C1180 165 1360 330 1420 570 L1395 590 C1300 540 1170 540 1060 520 C980 480 940 460 880 465 C760 480 620 500 520 520 Z" fill="#f7e72f" stroke="#1a1206" stroke-width="15" stroke-linejoin="round"/><ellipse cx="1095" cy="335" rx="105" ry="100" fill="#e4cc28"/><ellipse cx="1095" cy="335" rx="70" ry="66" fill="none" stroke="#c4aa20" stroke-width="10" stroke-dasharray="12 8"/><path d="M820 205 C900 280 940 380 950 470" fill="none" stroke="#d8c428" stroke-width="7"/><path d="M660 400 H760" stroke="#e4d030" stroke-width="20" stroke-linecap="round"/></g><text x="19.87" y="1494.70" font-size="19" font-weight="bold" fill="#fff" textLength="606" lengthAdjust="spacingAndGlyphs" xml:space="preserve">ติดต่อ สำนักงานแขวงทางหลวงสุโขทัย  เลขที่ 123  หมู่ที่ 4  ถนนสิงหวัฒน์</text><text x="85.88" y="1523.40" font-size="19" font-weight="bold" fill="#fff" textLength="480" lengthAdjust="spacingAndGlyphs" xml:space="preserve">ตำบลบ้านหลุม  อำเภอเมืองสุโขทัย  จังหวัดสุโขทัย  64000</text><text x="679.37" y="1495.70" font-size="20" font-weight="bold" fill="#111" stroke="#111" stroke-width="0.5" stroke-linejoin="round" textLength="205" lengthAdjust="spacingAndGlyphs">โทรศัพท์ : 0-5561-1258</text><text x="679.37" y="1519.50" font-size="20" font-weight="bold" fill="#111" stroke="#111" stroke-width="0.5" stroke-linejoin="round" textLength="206" lengthAdjust="spacingAndGlyphs" xml:space="preserve">โทรสาร  : 0-5561-2895</text><text x="929.02" y="1508.60" font-size="19" font-weight="bold" fill="#111" stroke="#111" stroke-width="0.4" stroke-linejoin="round" textLength="179.4" lengthAdjust="spacingAndGlyphs">sukhothai.doh.go.th</text><text x="1147.79" y="1506.90" font-size="19" fill="#111" textLength="177" lengthAdjust="spacingAndGlyphs">แขวงทางหลวงสุโขทัย</text><g transform="translate(909.9 1504.2)"><circle r="12.2" fill="#2b5ca8"/><g fill="none" stroke="#e8b84a" stroke-width="1.1"><circle r="9.6"/><ellipse rx="4.6" ry="9.6"/><path d="M-9.6 0H9.6M0 -9.6V9.6M-8.3 -4.8H8.3M-8.3 4.8H8.3"/></g><rect x="-8.6" y="-2.6" width="17.2" height="5.2" fill="#2b5ca8"/><path d="M-7 -1.2l1 2.6l1-2.6l1 2.6l1-2.6M-1.8 -1.2l1 2.6l1-2.6l1 2.6l1-2.6M3.4 -1.2l1 2.6l1-2.6l1 2.6l1-2.6" stroke="#f2d27a" stroke-width="0.8" fill="none"/></g><g transform="translate(1127.9 1503.5)"><circle r="12.2" fill="#1877f2"/><path d="M1.6 12.2V3.2h3l.5-3.6H1.6V-2.6c0-1 .4-1.8 1.9-1.8h1.8v-3.2c-.4-.1-1.5-.2-2.7-.2c-2.8 0-4.6 1.7-4.6 4.7V-.4h-3v3.6h3v9z" fill="#fff"/></g><text x="1360.01" y="1500.30" font-size="22" fill="#e8352a" textLength="78.4" lengthAdjust="spacingAndGlyphs">เดินทาง</text><text x="1444.50" y="1500.30" font-size="22" fill="#2a5aa0" textLength="58.5" lengthAdjust="spacingAndGlyphs">อุ่นใจ</text><text x="1385.40" y="1524.40" font-size="14" fill="#2a5aa0" textLength="64" lengthAdjust="spacingAndGlyphs">ปลอดภัย</text><text x="1451.68" y="1524.40" font-size="14" fill="#e8452a" textLength="37" lengthAdjust="spacingAndGlyphs">ไปกับ</text><text x="1488.66" y="1524.40" font-size="14" fill="#2a5aa0" textLength="94" lengthAdjust="spacingAndGlyphs">กรมทางหลวง</text><text x="1689.40" y="1499.00" font-size="21" fill="#1a1208" textLength="204.5" lengthAdjust="spacingAndGlyphs">สายด่วนกรมทางหลวง</text><text x="1900.15" y="1499.00" font-size="28" fill="#1a1208" textLength="64" lengthAdjust="spacingAndGlyphs">1586</text><text x="1826.81" y="1524.40" font-size="20" fill="#1a1208" textLength="138.5" lengthAdjust="spacingAndGlyphs">www.doh.go.th</text>
</svg>
</body></html>
